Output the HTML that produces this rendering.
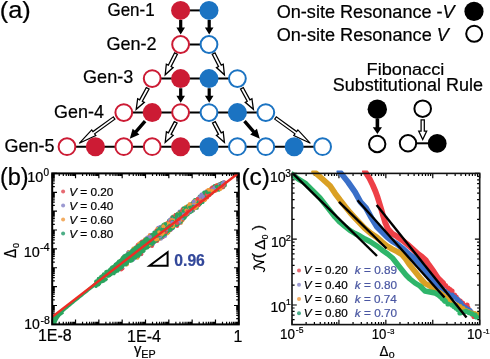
<!DOCTYPE html><html><head><meta charset="utf-8"><style>html,body{margin:0;padding:0;background:#fff;}svg{display:block;filter:blur(0.35px);}text{font-family:"Liberation Sans",sans-serif;}</style></head><body>
<svg width="490" height="359" viewBox="0 0 490 359">
<rect width="490" height="359" fill="#fff"/>
<line x1="180.6" y1="10.4" x2="209.0" y2="10.4" stroke="#000" stroke-width="2"/>
<line x1="180.6" y1="44.5" x2="209.0" y2="44.5" stroke="#000" stroke-width="2"/>
<line x1="152.2" y1="78.6" x2="237.4" y2="78.6" stroke="#000" stroke-width="2"/>
<line x1="123.8" y1="112.6" x2="265.8" y2="112.6" stroke="#000" stroke-width="2"/>
<line x1="67.0" y1="146.7" x2="322.6" y2="146.7" stroke="#000" stroke-width="2"/>
<polygon points="179.10,20.00 179.10,27.40 176.40,27.40 180.70,34.40 185.00,27.40 182.30,27.40 182.30,20.00" fill="#000"/>
<polygon points="207.60,20.00 207.60,27.40 204.90,27.40 209.20,34.40 213.50,27.40 210.80,27.40 210.80,20.00" fill="#000"/>
<polygon points="179.10,88.30 179.10,95.80 176.40,95.80 180.70,102.80 185.00,95.80 182.30,95.80 182.30,88.30" fill="#000"/>
<polygon points="207.60,88.30 207.60,95.80 204.90,95.80 209.20,102.80 213.50,95.80 210.80,95.80 210.80,88.30" fill="#000"/>
<polygon points="143.82,120.08 134.75,130.52 132.64,128.68 129.80,138.80 139.43,134.58 137.32,132.75 146.38,122.32" fill="#000"/>
<polygon points="243.22,122.32 252.28,132.75 250.17,134.58 259.80,138.80 256.96,128.68 254.85,130.52 245.78,120.08" fill="#000"/>
<polygon points="174.62,52.80 168.34,65.18 166.33,64.16 165.20,74.80 173.11,67.60 171.10,66.58 177.38,54.20" fill="#fff" stroke="#000" stroke-width="1.3" stroke-linejoin="miter"/>
<polygon points="212.22,54.20 218.50,66.58 216.49,67.60 224.40,74.80 223.27,64.16 221.26,65.18 214.98,52.80" fill="#fff" stroke="#000" stroke-width="1.3" stroke-linejoin="miter"/>
<polygon points="146.34,87.56 139.64,99.78 137.67,98.70 136.20,109.30 144.34,102.35 142.36,101.27 149.06,89.04" fill="#fff" stroke="#000" stroke-width="1.3" stroke-linejoin="miter"/>
<polygon points="240.54,89.04 247.24,101.27 245.26,102.35 253.40,109.30 251.93,98.70 249.96,99.78 243.26,87.56" fill="#fff" stroke="#000" stroke-width="1.3" stroke-linejoin="miter"/>
<polygon points="174.33,121.58 168.38,132.90 166.39,131.86 165.20,142.30 173.12,135.39 171.13,134.34 177.07,123.02" fill="#fff" stroke="#000" stroke-width="1.3" stroke-linejoin="miter"/>
<polygon points="212.53,123.02 218.47,134.34 216.48,135.39 224.40,142.30 223.21,131.86 221.22,132.90 215.27,121.58" fill="#fff" stroke="#000" stroke-width="1.3" stroke-linejoin="miter"/>
<polygon points="113.28,116.87 92.95,131.60 91.72,129.90 79.20,143.30 95.83,135.57 94.60,133.87 114.92,119.13" fill="#fff" stroke="#000" stroke-width="1.2" stroke-linejoin="miter"/>
<polygon points="274.68,119.13 295.00,133.87 293.77,135.57 310.40,143.30 297.88,129.90 296.65,131.60 276.32,116.87" fill="#fff" stroke="#000" stroke-width="1.2" stroke-linejoin="miter"/>
<circle cx="180.6" cy="10.4" r="9.5" fill="#cc1b34"/>
<circle cx="209.0" cy="10.4" r="9.5" fill="#1b73c2"/>
<circle cx="180.6" cy="44.5" r="8.4" fill="#fff" stroke="#cc1b34" stroke-width="2"/>
<circle cx="209.0" cy="44.5" r="8.4" fill="#fff" stroke="#1b73c2" stroke-width="2"/>
<circle cx="152.2" cy="78.6" r="8.4" fill="#fff" stroke="#cc1b34" stroke-width="2"/>
<circle cx="180.6" cy="78.6" r="9.5" fill="#cc1b34"/>
<circle cx="209.0" cy="78.6" r="9.5" fill="#1b73c2"/>
<circle cx="237.4" cy="78.6" r="8.4" fill="#fff" stroke="#1b73c2" stroke-width="2"/>
<circle cx="123.8" cy="112.6" r="8.4" fill="#fff" stroke="#cc1b34" stroke-width="2"/>
<circle cx="152.2" cy="112.6" r="9.5" fill="#cc1b34"/>
<circle cx="180.6" cy="112.6" r="8.4" fill="#fff" stroke="#cc1b34" stroke-width="2"/>
<circle cx="209.0" cy="112.6" r="8.4" fill="#fff" stroke="#1b73c2" stroke-width="2"/>
<circle cx="237.4" cy="112.6" r="9.5" fill="#1b73c2"/>
<circle cx="265.8" cy="112.6" r="8.4" fill="#fff" stroke="#1b73c2" stroke-width="2"/>
<circle cx="67.0" cy="146.7" r="8.4" fill="#fff" stroke="#cc1b34" stroke-width="2"/>
<circle cx="95.4" cy="146.7" r="9.5" fill="#cc1b34"/>
<circle cx="123.8" cy="146.7" r="8.4" fill="#fff" stroke="#cc1b34" stroke-width="2"/>
<circle cx="152.2" cy="146.7" r="8.4" fill="#fff" stroke="#cc1b34" stroke-width="2"/>
<circle cx="180.6" cy="146.7" r="9.5" fill="#cc1b34"/>
<circle cx="209.0" cy="146.7" r="9.5" fill="#1b73c2"/>
<circle cx="237.4" cy="146.7" r="8.4" fill="#fff" stroke="#1b73c2" stroke-width="2"/>
<circle cx="265.8" cy="146.7" r="8.4" fill="#fff" stroke="#1b73c2" stroke-width="2"/>
<circle cx="294.2" cy="146.7" r="9.5" fill="#1b73c2"/>
<circle cx="322.6" cy="146.7" r="8.4" fill="#fff" stroke="#1b73c2" stroke-width="2"/>
<circle cx="474" cy="11.4" r="9.6" fill="#000"/>
<circle cx="474.2" cy="33.8" r="8.0" fill="#fff" stroke="#000" stroke-width="2"/>
<circle cx="377.3" cy="109.2" r="9.7" fill="#000"/>
<polygon points="375.60,118.80 375.60,127.20 372.80,127.20 377.40,134.00 382.00,127.20 379.20,127.20 379.20,118.80" fill="#000"/>
<circle cx="377.2" cy="144.0" r="8.2" fill="#fff" stroke="#000" stroke-width="2"/>
<circle cx="422.7" cy="108.7" r="8.3" fill="#fff" stroke="#000" stroke-width="2"/>
<line x1="408" y1="143.3" x2="437.2" y2="143.3" stroke="#000" stroke-width="2"/>
<polygon points="421.10,119.80 421.10,131.00 418.70,131.00 422.70,139.50 426.70,131.00 424.30,131.00 424.30,119.80" fill="#fff" stroke="#000" stroke-width="1.25" stroke-linejoin="miter"/>
<circle cx="408.0" cy="143.3" r="8.2" fill="#fff" stroke="#000" stroke-width="2"/>
<circle cx="437.2" cy="143.4" r="9.4" fill="#000"/>
<path d="M52.20 324.4v-4.8M52.20 173.4v4.8M59.22 324.4v-2.6M59.22 173.4v2.6M63.33 324.4v-2.6M63.33 173.4v2.6M66.24 324.4v-2.6M66.24 173.4v2.6M68.50 324.4v-2.6M68.50 173.4v2.6M70.35 324.4v-2.6M70.35 173.4v2.6M71.91 324.4v-2.6M71.91 173.4v2.6M73.26 324.4v-2.6M73.26 173.4v2.6M74.46 324.4v-2.6M74.46 173.4v2.6M75.53 324.4v-4.8M75.53 173.4v4.8M82.55 324.4v-2.6M82.55 173.4v2.6M86.65 324.4v-2.6M86.65 173.4v2.6M89.57 324.4v-2.6M89.57 173.4v2.6M91.83 324.4v-2.6M91.83 173.4v2.6M93.68 324.4v-2.6M93.68 173.4v2.6M95.24 324.4v-2.6M95.24 173.4v2.6M96.59 324.4v-2.6M96.59 173.4v2.6M97.78 324.4v-2.6M97.78 173.4v2.6M98.85 324.4v-4.8M98.85 173.4v4.8M105.87 324.4v-2.6M105.87 173.4v2.6M109.98 324.4v-2.6M109.98 173.4v2.6M112.89 324.4v-2.6M112.89 173.4v2.6M115.15 324.4v-2.6M115.15 173.4v2.6M117.00 324.4v-2.6M117.00 173.4v2.6M118.56 324.4v-2.6M118.56 173.4v2.6M119.91 324.4v-2.6M119.91 173.4v2.6M121.11 324.4v-2.6M121.11 173.4v2.6M122.18 324.4v-4.8M122.18 173.4v4.8M129.20 324.4v-2.6M129.20 173.4v2.6M133.30 324.4v-2.6M133.30 173.4v2.6M136.22 324.4v-2.6M136.22 173.4v2.6M138.48 324.4v-2.6M138.48 173.4v2.6M140.33 324.4v-2.6M140.33 173.4v2.6M141.89 324.4v-2.6M141.89 173.4v2.6M143.24 324.4v-2.6M143.24 173.4v2.6M144.43 324.4v-2.6M144.43 173.4v2.6M145.50 324.4v-4.8M145.50 173.4v4.8M152.52 324.4v-2.6M152.52 173.4v2.6M156.63 324.4v-2.6M156.63 173.4v2.6M159.54 324.4v-2.6M159.54 173.4v2.6M161.80 324.4v-2.6M161.80 173.4v2.6M163.65 324.4v-2.6M163.65 173.4v2.6M165.21 324.4v-2.6M165.21 173.4v2.6M166.56 324.4v-2.6M166.56 173.4v2.6M167.76 324.4v-2.6M167.76 173.4v2.6M168.83 324.4v-4.8M168.83 173.4v4.8M175.85 324.4v-2.6M175.85 173.4v2.6M179.95 324.4v-2.6M179.95 173.4v2.6M182.87 324.4v-2.6M182.87 173.4v2.6M185.13 324.4v-2.6M185.13 173.4v2.6M186.98 324.4v-2.6M186.98 173.4v2.6M188.54 324.4v-2.6M188.54 173.4v2.6M189.89 324.4v-2.6M189.89 173.4v2.6M191.08 324.4v-2.6M191.08 173.4v2.6M192.15 324.4v-4.8M192.15 173.4v4.8M199.17 324.4v-2.6M199.17 173.4v2.6M203.28 324.4v-2.6M203.28 173.4v2.6M206.19 324.4v-2.6M206.19 173.4v2.6M208.45 324.4v-2.6M208.45 173.4v2.6M210.30 324.4v-2.6M210.30 173.4v2.6M211.86 324.4v-2.6M211.86 173.4v2.6M213.21 324.4v-2.6M213.21 173.4v2.6M214.41 324.4v-2.6M214.41 173.4v2.6M215.48 324.4v-4.8M215.48 173.4v4.8M222.50 324.4v-2.6M222.50 173.4v2.6M226.60 324.4v-2.6M226.60 173.4v2.6M229.52 324.4v-2.6M229.52 173.4v2.6M231.78 324.4v-2.6M231.78 173.4v2.6M233.63 324.4v-2.6M233.63 173.4v2.6M235.19 324.4v-2.6M235.19 173.4v2.6M236.54 324.4v-2.6M236.54 173.4v2.6M237.73 324.4v-2.6M237.73 173.4v2.6M238.80 324.4v-4.8M238.80 173.4v4.8M52.2 324.40h4.8M238.8 324.40h-4.8M52.2 318.72h2.6M238.8 318.72h-2.6M52.2 315.39h2.6M238.8 315.39h-2.6M52.2 313.04h2.6M238.8 313.04h-2.6M52.2 311.21h2.6M238.8 311.21h-2.6M52.2 309.71h2.6M238.8 309.71h-2.6M52.2 308.45h2.6M238.8 308.45h-2.6M52.2 307.35h2.6M238.8 307.35h-2.6M52.2 306.39h2.6M238.8 306.39h-2.6M52.2 305.52h4.8M238.8 305.52h-4.8M52.2 299.84h2.6M238.8 299.84h-2.6M52.2 296.52h2.6M238.8 296.52h-2.6M52.2 294.16h2.6M238.8 294.16h-2.6M52.2 292.33h2.6M238.8 292.33h-2.6M52.2 290.84h2.6M238.8 290.84h-2.6M52.2 289.57h2.6M238.8 289.57h-2.6M52.2 288.48h2.6M238.8 288.48h-2.6M52.2 287.51h2.6M238.8 287.51h-2.6M52.2 286.65h4.8M238.8 286.65h-4.8M52.2 280.97h2.6M238.8 280.97h-2.6M52.2 277.64h2.6M238.8 277.64h-2.6M52.2 275.29h2.6M238.8 275.29h-2.6M52.2 273.46h2.6M238.8 273.46h-2.6M52.2 271.96h2.6M238.8 271.96h-2.6M52.2 270.70h2.6M238.8 270.70h-2.6M52.2 269.60h2.6M238.8 269.60h-2.6M52.2 268.64h2.6M238.8 268.64h-2.6M52.2 267.77h4.8M238.8 267.77h-4.8M52.2 262.09h2.6M238.8 262.09h-2.6M52.2 258.77h2.6M238.8 258.77h-2.6M52.2 256.41h2.6M238.8 256.41h-2.6M52.2 254.58h2.6M238.8 254.58h-2.6M52.2 253.09h2.6M238.8 253.09h-2.6M52.2 251.82h2.6M238.8 251.82h-2.6M52.2 250.73h2.6M238.8 250.73h-2.6M52.2 249.76h2.6M238.8 249.76h-2.6M52.2 248.90h4.8M238.8 248.90h-4.8M52.2 243.22h2.6M238.8 243.22h-2.6M52.2 239.89h2.6M238.8 239.89h-2.6M52.2 237.54h2.6M238.8 237.54h-2.6M52.2 235.71h2.6M238.8 235.71h-2.6M52.2 234.21h2.6M238.8 234.21h-2.6M52.2 232.95h2.6M238.8 232.95h-2.6M52.2 231.85h2.6M238.8 231.85h-2.6M52.2 230.89h2.6M238.8 230.89h-2.6M52.2 230.02h4.8M238.8 230.02h-4.8M52.2 224.34h2.6M238.8 224.34h-2.6M52.2 221.02h2.6M238.8 221.02h-2.6M52.2 218.66h2.6M238.8 218.66h-2.6M52.2 216.83h2.6M238.8 216.83h-2.6M52.2 215.34h2.6M238.8 215.34h-2.6M52.2 214.07h2.6M238.8 214.07h-2.6M52.2 212.98h2.6M238.8 212.98h-2.6M52.2 212.01h2.6M238.8 212.01h-2.6M52.2 211.15h4.8M238.8 211.15h-4.8M52.2 205.47h2.6M238.8 205.47h-2.6M52.2 202.14h2.6M238.8 202.14h-2.6M52.2 199.79h2.6M238.8 199.79h-2.6M52.2 197.96h2.6M238.8 197.96h-2.6M52.2 196.46h2.6M238.8 196.46h-2.6M52.2 195.20h2.6M238.8 195.20h-2.6M52.2 194.10h2.6M238.8 194.10h-2.6M52.2 193.14h2.6M238.8 193.14h-2.6M52.2 192.28h4.8M238.8 192.28h-4.8M52.2 186.59h2.6M238.8 186.59h-2.6M52.2 183.27h2.6M238.8 183.27h-2.6M52.2 180.91h2.6M238.8 180.91h-2.6M52.2 179.08h2.6M238.8 179.08h-2.6M52.2 177.59h2.6M238.8 177.59h-2.6M52.2 176.32h2.6M238.8 176.32h-2.6M52.2 175.23h2.6M238.8 175.23h-2.6M52.2 174.26h2.6M238.8 174.26h-2.6M52.2 173.40h4.8M238.8 173.40h-4.8" stroke="#000" stroke-width="1.2" fill="none"/>
<clipPath id="cb"><rect x="52.2" y="173.4" width="186.6" height="151.0"/></clipPath><g clip-path="url(#cb)">
<circle cx="142.0" cy="241.4" r="2.0" fill="#e8474f"/>
<circle cx="125.0" cy="256.5" r="2.0" fill="#f09a3a"/>
<circle cx="150.1" cy="244.6" r="2.0" fill="#f09a3a"/>
<circle cx="159.8" cy="229.3" r="2.0" fill="#8a84c8"/>
<circle cx="147.4" cy="239.5" r="2.0" fill="#f09a3a"/>
<circle cx="128.7" cy="252.1" r="2.0" fill="#f09a3a"/>
<circle cx="160.3" cy="226.7" r="2.0" fill="#8a84c8"/>
<circle cx="163.8" cy="235.5" r="2.0" fill="#8a84c8"/>
<circle cx="186.3" cy="206.9" r="2.0" fill="#8a84c8"/>
<circle cx="136.1" cy="257.2" r="2.0" fill="#8a84c8"/>
<circle cx="139.3" cy="253.5" r="2.0" fill="#f09a3a"/>
<circle cx="143.3" cy="242.7" r="2.0" fill="#e8474f"/>
<circle cx="160.4" cy="237.4" r="2.0" fill="#8a84c8"/>
<circle cx="160.9" cy="238.7" r="2.0" fill="#8a84c8"/>
<circle cx="167.1" cy="233.4" r="2.0" fill="#f09a3a"/>
<circle cx="146.5" cy="247.3" r="2.0" fill="#f09a3a"/>
<circle cx="163.2" cy="234.9" r="2.0" fill="#f09a3a"/>
<circle cx="136.3" cy="246.7" r="2.0" fill="#f09a3a"/>
<circle cx="147.7" cy="246.7" r="2.0" fill="#e8474f"/>
<circle cx="138.6" cy="254.8" r="2.0" fill="#e8474f"/>
<circle cx="129.2" cy="251.9" r="2.0" fill="#f09a3a"/>
<circle cx="179.5" cy="211.6" r="2.0" fill="#8a84c8"/>
<circle cx="145.3" cy="239.9" r="2.0" fill="#8a84c8"/>
<circle cx="182.5" cy="220.6" r="2.0" fill="#f09a3a"/>
<circle cx="147.2" cy="238.1" r="2.0" fill="#f09a3a"/>
<circle cx="133.4" cy="248.4" r="2.0" fill="#f09a3a"/>
<circle cx="159.9" cy="228.0" r="2.0" fill="#f09a3a"/>
<circle cx="133.4" cy="259.6" r="2.0" fill="#8a84c8"/>
<circle cx="153.1" cy="243.6" r="2.0" fill="#8a84c8"/>
<circle cx="141.1" cy="254.2" r="2.0" fill="#8a84c8"/>
<circle cx="169.2" cy="230.1" r="2.0" fill="#f09a3a"/>
<circle cx="158.2" cy="227.8" r="2.0" fill="#8a84c8"/>
<circle cx="137.3" cy="245.9" r="2.0" fill="#8a84c8"/>
<circle cx="175.7" cy="215.0" r="2.0" fill="#e8474f"/>
<circle cx="178.6" cy="222.6" r="2.0" fill="#f09a3a"/>
<circle cx="120.1" cy="268.0" r="2.0" fill="#f09a3a"/>
<circle cx="162.8" cy="237.2" r="2.0" fill="#e8474f"/>
<circle cx="145.0" cy="239.2" r="2.0" fill="#f09a3a"/>
<circle cx="153.7" cy="234.3" r="2.0" fill="#8a84c8"/>
<circle cx="166.3" cy="223.7" r="2.0" fill="#e8474f"/>
<circle cx="175.9" cy="216.1" r="2.0" fill="#8a84c8"/>
<circle cx="165.1" cy="235.9" r="2.0" fill="#8a84c8"/>
<circle cx="173.0" cy="216.4" r="2.0" fill="#f09a3a"/>
<circle cx="161.7" cy="237.5" r="2.0" fill="#8a84c8"/>
<circle cx="143.9" cy="241.0" r="2.0" fill="#e8474f"/>
<circle cx="171.8" cy="217.4" r="2.0" fill="#8a84c8"/>
<circle cx="182.5" cy="219.0" r="2.0" fill="#f09a3a"/>
<circle cx="155.1" cy="241.5" r="2.0" fill="#e8474f"/>
<circle cx="122.5" cy="268.4" r="2.0" fill="#e8474f"/>
<circle cx="183.0" cy="208.8" r="2.0" fill="#e8474f"/>
<circle cx="175.5" cy="216.0" r="2.0" fill="#f09a3a"/>
<circle cx="153.0" cy="243.9" r="2.0" fill="#8a84c8"/>
<circle cx="157.3" cy="230.0" r="2.0" fill="#f09a3a"/>
<circle cx="138.5" cy="246.1" r="2.0" fill="#e8474f"/>
<circle cx="185.5" cy="207.8" r="2.0" fill="#8a84c8"/>
<circle cx="151.5" cy="234.8" r="2.0" fill="#8a84c8"/>
<circle cx="182.9" cy="211.3" r="2.0" fill="#e8474f"/>
<circle cx="128.1" cy="252.5" r="2.0" fill="#8a84c8"/>
<circle cx="149.7" cy="235.3" r="2.0" fill="#e8474f"/>
<circle cx="129.4" cy="253.3" r="2.0" fill="#f09a3a"/>
<circle cx="128.2" cy="253.5" r="2.0" fill="#f09a3a"/>
<circle cx="154.1" cy="234.1" r="2.0" fill="#8a84c8"/>
<circle cx="191.6" cy="211.0" r="2.0" fill="#f09a3a"/>
<circle cx="171.4" cy="229.4" r="2.0" fill="#8a84c8"/>
<circle cx="146.4" cy="238.8" r="2.0" fill="#f09a3a"/>
<circle cx="186.0" cy="206.8" r="2.0" fill="#f09a3a"/>
<circle cx="120.9" cy="260.5" r="2.0" fill="#e8474f"/>
<circle cx="180.9" cy="223.0" r="2.0" fill="#f09a3a"/>
<circle cx="186.0" cy="207.8" r="2.0" fill="#f09a3a"/>
<circle cx="177.2" cy="225.9" r="2.0" fill="#e8474f"/>
<circle cx="164.9" cy="224.7" r="2.0" fill="#f09a3a"/>
<circle cx="181.8" cy="220.0" r="2.0" fill="#e8474f"/>
<circle cx="137.8" cy="244.7" r="2.0" fill="#e8474f"/>
<circle cx="189.7" cy="211.8" r="2.0" fill="#8a84c8"/>
<circle cx="157.3" cy="229.1" r="2.0" fill="#f09a3a"/>
<circle cx="177.5" cy="215.6" r="2.0" fill="#8a84c8"/>
<circle cx="158.8" cy="239.2" r="2.0" fill="#f09a3a"/>
<circle cx="178.6" cy="223.5" r="2.0" fill="#e8474f"/>
<circle cx="140.8" cy="242.6" r="2.0" fill="#e8474f"/>
<circle cx="170.3" cy="229.9" r="2.0" fill="#e8474f"/>
<circle cx="179.9" cy="222.8" r="2.0" fill="#8a84c8"/>
<circle cx="122.1" cy="267.0" r="2.0" fill="#8a84c8"/>
<circle cx="169.3" cy="230.0" r="2.0" fill="#8a84c8"/>
<circle cx="137.5" cy="257.7" r="2.0" fill="#f09a3a"/>
<circle cx="189.5" cy="204.3" r="2.0" fill="#f09a3a"/>
<circle cx="124.2" cy="256.2" r="2.0" fill="#8a84c8"/>
<circle cx="118.4" cy="268.6" r="2.0" fill="#8a84c8"/>
<circle cx="147.2" cy="237.6" r="2.0" fill="#8a84c8"/>
<circle cx="157.2" cy="241.0" r="2.0" fill="#e8474f"/>
<circle cx="171.3" cy="218.9" r="2.0" fill="#f09a3a"/>
<circle cx="179.8" cy="213.5" r="2.0" fill="#e8474f"/>
<circle cx="173.7" cy="217.3" r="2.0" fill="#e8474f"/>
<circle cx="161.2" cy="228.0" r="2.0" fill="#f09a3a"/>
<circle cx="121.1" cy="269.6" r="2.0" fill="#e8474f"/>
<circle cx="159.3" cy="228.7" r="2.0" fill="#8a84c8"/>
<circle cx="118.2" cy="262.8" r="2.0" fill="#8a84c8"/>
<circle cx="122.9" cy="258.7" r="2.0" fill="#e8474f"/>
<circle cx="135.4" cy="256.8" r="2.0" fill="#8a84c8"/>
<circle cx="146.3" cy="238.8" r="2.0" fill="#8a84c8"/>
<circle cx="165.6" cy="232.8" r="2.0" fill="#8a84c8"/>
<circle cx="169.3" cy="229.8" r="2.0" fill="#f09a3a"/>
<circle cx="137.9" cy="256.4" r="2.0" fill="#f09a3a"/>
<circle cx="156.2" cy="230.7" r="2.0" fill="#e8474f"/>
<circle cx="158.6" cy="238.0" r="2.0" fill="#f09a3a"/>
<circle cx="152.0" cy="246.0" r="2.0" fill="#e8474f"/>
<circle cx="146.6" cy="239.9" r="2.0" fill="#8a84c8"/>
<circle cx="128.5" cy="253.4" r="2.0" fill="#8a84c8"/>
<circle cx="164.7" cy="233.4" r="2.0" fill="#f09a3a"/>
<circle cx="184.4" cy="208.7" r="2.0" fill="#e8474f"/>
<circle cx="168.4" cy="232.4" r="2.0" fill="#f09a3a"/>
<circle cx="141.4" cy="251.5" r="2.0" fill="#e8474f"/>
<circle cx="126.9" cy="264.6" r="2.0" fill="#f09a3a"/>
<circle cx="122.8" cy="257.7" r="2.0" fill="#f09a3a"/>
<circle cx="149.7" cy="235.5" r="2.0" fill="#f09a3a"/>
<circle cx="167.0" cy="231.7" r="2.0" fill="#8a84c8"/>
<circle cx="141.4" cy="254.1" r="2.0" fill="#e8474f"/>
<circle cx="178.1" cy="214.1" r="2.0" fill="#8a84c8"/>
<circle cx="121.7" cy="259.7" r="2.0" fill="#8a84c8"/>
<circle cx="139.2" cy="243.4" r="2.0" fill="#f09a3a"/>
<circle cx="148.7" cy="246.3" r="2.0" fill="#8a84c8"/>
<polygon points="51.00,317.04 52.00,316.47 53.00,315.89 54.00,315.42 55.00,314.95 56.00,314.48 57.00,313.72 58.00,312.96 59.00,312.20 60.00,311.44 61.00,310.68 62.00,309.92 63.00,309.16 64.00,308.40 65.00,307.54 66.00,306.69 67.00,305.83 68.00,304.98 69.00,304.13 70.00,303.27 71.00,302.42 72.00,301.56 73.00,300.71 74.00,299.85 75.00,299.00 76.00,298.16 77.00,297.32 78.00,296.48 79.00,295.64 80.00,294.80 81.00,293.97 82.00,293.13 83.00,292.29 84.00,291.45 85.00,290.61 86.00,289.77 87.00,288.93 88.00,288.09 89.00,287.25 90.00,286.41 91.00,285.54 92.00,284.67 93.00,283.80 94.00,282.92 95.00,282.05 96.00,281.98 97.00,281.11 98.00,280.23 99.00,279.36 100.00,278.49 101.00,277.63 102.00,276.78 103.00,275.92 104.00,275.07 105.00,274.21 106.00,273.36 107.00,272.50 108.00,271.64 109.00,270.79 110.00,269.93 111.00,269.08 112.00,268.22 113.00,267.37 114.00,266.52 115.00,265.67 116.00,264.82 117.00,263.97 118.00,263.13 119.00,262.28 120.00,261.43 121.00,260.58 122.00,259.73 123.00,258.88 124.00,258.03 125.00,257.18 126.00,256.37 127.00,255.57 128.00,254.76 129.00,253.96 130.00,253.15 131.00,252.35 132.00,251.54 133.00,250.73 134.00,249.93 135.00,249.12 136.00,248.32 137.00,247.51 138.00,246.71 139.00,245.90 140.00,245.09 141.00,244.27 142.00,243.45 143.00,242.63 144.00,241.80 145.00,240.98 146.00,240.16 147.00,239.34 148.00,238.51 149.00,237.69 150.00,236.87 151.00,236.06 152.00,235.26 153.00,234.45 154.00,233.65 155.00,232.84 156.00,232.04 157.00,231.23 158.00,230.42 159.00,229.62 160.00,228.81 161.00,228.01 162.00,227.20 163.00,226.40 164.00,225.59 165.00,224.78 166.00,224.01 167.00,223.24 168.00,222.47 169.00,221.69 170.00,220.92 171.00,220.15 172.00,219.38 173.00,218.60 174.00,217.83 175.00,217.06 176.00,216.29 177.00,215.52 178.00,214.74 179.00,213.97 180.00,213.20 181.00,212.43 182.00,211.65 183.00,210.88 184.00,210.11 185.00,209.34 186.00,208.56 187.00,207.79 188.00,207.02 189.00,206.25 190.00,205.47 191.00,204.70 192.00,203.93 193.00,203.16 194.00,202.38 195.00,201.61 196.00,200.84 197.00,200.07 198.00,199.29 199.00,198.52 200.00,197.75 200.00,202.75 199.00,203.62 198.00,204.49 197.00,205.37 196.00,206.24 195.00,207.11 194.00,207.98 193.00,208.86 192.00,209.73 191.00,210.60 190.00,211.47 189.00,212.45 188.00,213.42 187.00,214.39 186.00,215.36 185.00,216.34 184.00,217.31 183.00,218.28 182.00,219.25 181.00,220.23 180.00,221.20 179.00,222.00 178.00,222.81 177.00,223.62 176.00,224.42 175.00,225.23 174.00,226.03 173.00,226.84 172.00,227.64 171.00,228.45 170.00,229.26 169.00,230.06 168.00,230.87 167.00,231.67 166.00,232.48 165.00,233.28 164.00,234.06 163.00,234.83 162.00,235.60 161.00,236.37 160.00,237.15 159.00,237.92 158.00,238.69 157.00,239.46 156.00,240.24 155.00,241.01 154.00,241.78 153.00,242.55 152.00,243.33 151.00,244.10 150.00,244.87 149.00,245.69 148.00,246.51 147.00,247.34 146.00,248.16 145.00,248.98 144.00,249.80 143.00,250.63 142.00,251.45 141.00,252.27 140.00,253.09 139.00,253.83 138.00,254.57 137.00,255.31 136.00,256.05 135.00,256.79 134.00,257.53 133.00,258.27 132.00,259.01 131.00,259.75 130.00,260.48 129.00,261.22 128.00,261.96 127.00,262.70 126.00,263.44 125.00,264.18 124.00,264.88 123.00,265.57 122.00,266.27 121.00,266.96 120.00,267.66 119.00,268.35 118.00,269.05 117.00,269.74 116.00,270.44 115.00,271.13 114.00,271.83 113.00,272.53 112.00,273.22 111.00,273.95 110.00,274.68 109.00,275.41 108.00,276.14 107.00,276.87 106.00,277.61 105.00,278.34 104.00,279.07 103.00,279.80 102.00,280.53 101.00,281.26 100.00,281.99 99.00,282.76 98.00,283.53 97.00,284.31 96.00,285.08 95.00,286.65 94.00,287.42 93.00,288.20 92.00,288.97 91.00,289.74 90.00,290.51 89.00,291.32 88.00,292.13 87.00,292.93 86.00,293.74 85.00,294.54 84.00,295.35 83.00,296.15 82.00,296.96 81.00,297.77 80.00,298.57 79.00,299.38 78.00,300.18 77.00,300.99 76.00,301.79 75.00,302.60 74.00,303.44 73.00,304.27 72.00,305.11 71.00,305.94 70.00,306.78 69.00,307.62 68.00,308.45 67.00,309.29 66.00,310.12 65.00,310.96 64.00,311.80 63.00,312.67 62.00,313.54 61.00,314.41 60.00,315.29 59.00,316.16 58.00,317.03 57.00,317.90 56.00,318.78 55.00,319.88 54.00,320.99 53.00,322.09 52.00,323.62 51.00,325.14" fill="#2aa55e"/>
<circle cx="96.0" cy="281.4" r="1.9" fill="#2aa55e"/>
<circle cx="96.0" cy="286.5" r="1.6" fill="#2aa55e"/>
<circle cx="97.3" cy="281.0" r="2.0" fill="#2aa55e"/>
<circle cx="97.3" cy="285.0" r="1.8" fill="#2aa55e"/>
<circle cx="98.5" cy="278.6" r="1.8" fill="#2aa55e"/>
<circle cx="98.5" cy="284.8" r="1.8" fill="#2aa55e"/>
<circle cx="99.5" cy="278.8" r="1.7" fill="#2aa55e"/>
<circle cx="99.5" cy="283.8" r="1.7" fill="#2aa55e"/>
<circle cx="100.9" cy="277.1" r="2.0" fill="#2aa55e"/>
<circle cx="100.9" cy="282.1" r="1.7" fill="#2aa55e"/>
<circle cx="102.3" cy="276.0" r="2.0" fill="#2aa55e"/>
<circle cx="102.3" cy="281.4" r="1.8" fill="#2aa55e"/>
<circle cx="103.6" cy="274.1" r="1.8" fill="#2aa55e"/>
<circle cx="103.6" cy="280.8" r="2.0" fill="#2aa55e"/>
<circle cx="105.1" cy="274.8" r="1.7" fill="#2aa55e"/>
<circle cx="105.1" cy="279.7" r="1.9" fill="#2aa55e"/>
<circle cx="106.2" cy="272.1" r="2.1" fill="#2aa55e"/>
<circle cx="106.2" cy="279.2" r="1.6" fill="#2aa55e"/>
<circle cx="107.3" cy="271.7" r="2.1" fill="#2aa55e"/>
<circle cx="107.3" cy="276.0" r="1.8" fill="#2aa55e"/>
<circle cx="108.2" cy="272.3" r="1.8" fill="#2aa55e"/>
<circle cx="108.2" cy="275.9" r="1.8" fill="#2aa55e"/>
<circle cx="109.4" cy="270.0" r="1.6" fill="#2aa55e"/>
<circle cx="109.4" cy="275.3" r="2.1" fill="#2aa55e"/>
<circle cx="110.2" cy="269.6" r="2.0" fill="#2aa55e"/>
<circle cx="110.2" cy="274.1" r="2.0" fill="#2aa55e"/>
<circle cx="111.1" cy="268.4" r="1.6" fill="#2aa55e"/>
<circle cx="111.1" cy="274.4" r="1.8" fill="#2aa55e"/>
<circle cx="111.9" cy="267.3" r="1.9" fill="#2aa55e"/>
<circle cx="111.9" cy="272.1" r="1.8" fill="#2aa55e"/>
<circle cx="113.1" cy="266.7" r="1.7" fill="#2aa55e"/>
<circle cx="113.1" cy="272.7" r="2.1" fill="#2aa55e"/>
<circle cx="114.0" cy="265.8" r="1.5" fill="#2aa55e"/>
<circle cx="114.0" cy="273.6" r="1.8" fill="#2aa55e"/>
<circle cx="115.6" cy="264.4" r="2.0" fill="#2aa55e"/>
<circle cx="115.6" cy="271.9" r="1.6" fill="#2aa55e"/>
<circle cx="116.9" cy="263.3" r="1.7" fill="#2aa55e"/>
<circle cx="116.9" cy="270.4" r="1.9" fill="#2aa55e"/>
<circle cx="117.7" cy="263.3" r="1.9" fill="#2aa55e"/>
<circle cx="117.7" cy="271.2" r="1.5" fill="#2aa55e"/>
<circle cx="118.7" cy="261.3" r="1.8" fill="#2aa55e"/>
<circle cx="118.7" cy="269.5" r="1.9" fill="#2aa55e"/>
<circle cx="120.1" cy="260.3" r="1.5" fill="#2aa55e"/>
<circle cx="120.1" cy="268.7" r="1.7" fill="#2aa55e"/>
<circle cx="121.5" cy="260.3" r="1.6" fill="#2aa55e"/>
<circle cx="121.5" cy="267.5" r="2.0" fill="#2aa55e"/>
<circle cx="122.5" cy="258.2" r="2.0" fill="#2aa55e"/>
<circle cx="122.5" cy="266.6" r="1.6" fill="#2aa55e"/>
<circle cx="123.8" cy="256.5" r="1.8" fill="#2aa55e"/>
<circle cx="123.8" cy="264.7" r="2.0" fill="#2aa55e"/>
<circle cx="124.6" cy="255.6" r="1.5" fill="#2aa55e"/>
<circle cx="124.6" cy="264.1" r="1.5" fill="#2aa55e"/>
<circle cx="125.9" cy="254.9" r="1.6" fill="#2aa55e"/>
<circle cx="125.9" cy="264.7" r="1.8" fill="#2aa55e"/>
<circle cx="127.3" cy="254.6" r="1.5" fill="#2aa55e"/>
<circle cx="127.3" cy="263.4" r="1.6" fill="#2aa55e"/>
<circle cx="128.2" cy="253.5" r="1.8" fill="#2aa55e"/>
<circle cx="128.2" cy="261.7" r="1.7" fill="#2aa55e"/>
<circle cx="129.6" cy="253.9" r="1.8" fill="#2aa55e"/>
<circle cx="129.6" cy="259.6" r="1.6" fill="#2aa55e"/>
<circle cx="130.5" cy="252.8" r="2.0" fill="#2aa55e"/>
<circle cx="130.5" cy="261.1" r="1.8" fill="#2aa55e"/>
<circle cx="131.9" cy="250.2" r="1.7" fill="#2aa55e"/>
<circle cx="131.9" cy="260.5" r="2.0" fill="#2aa55e"/>
<circle cx="132.8" cy="250.2" r="1.8" fill="#2aa55e"/>
<circle cx="132.8" cy="258.6" r="1.8" fill="#2aa55e"/>
<circle cx="133.8" cy="249.4" r="1.9" fill="#2aa55e"/>
<circle cx="133.8" cy="257.5" r="1.6" fill="#2aa55e"/>
<circle cx="135.1" cy="247.9" r="1.8" fill="#2aa55e"/>
<circle cx="135.1" cy="257.7" r="2.0" fill="#2aa55e"/>
<circle cx="136.0" cy="247.8" r="1.9" fill="#2aa55e"/>
<circle cx="136.0" cy="256.9" r="1.7" fill="#2aa55e"/>
<circle cx="137.0" cy="247.1" r="1.9" fill="#2aa55e"/>
<circle cx="137.0" cy="255.8" r="1.9" fill="#2aa55e"/>
<circle cx="138.6" cy="245.3" r="1.9" fill="#2aa55e"/>
<circle cx="138.6" cy="255.8" r="2.0" fill="#2aa55e"/>
<circle cx="140.1" cy="245.6" r="1.6" fill="#2aa55e"/>
<circle cx="140.1" cy="254.1" r="1.9" fill="#2aa55e"/>
<circle cx="141.3" cy="243.6" r="2.0" fill="#2aa55e"/>
<circle cx="141.3" cy="251.4" r="2.0" fill="#2aa55e"/>
<circle cx="142.2" cy="242.6" r="2.1" fill="#2aa55e"/>
<circle cx="142.2" cy="251.9" r="1.7" fill="#2aa55e"/>
<circle cx="143.6" cy="241.9" r="2.0" fill="#2aa55e"/>
<circle cx="143.6" cy="251.2" r="1.8" fill="#2aa55e"/>
<circle cx="145.0" cy="239.7" r="1.7" fill="#2aa55e"/>
<circle cx="145.0" cy="249.1" r="1.6" fill="#2aa55e"/>
<circle cx="146.1" cy="239.0" r="1.8" fill="#2aa55e"/>
<circle cx="146.1" cy="248.0" r="1.6" fill="#2aa55e"/>
<circle cx="147.3" cy="238.7" r="1.9" fill="#2aa55e"/>
<circle cx="147.3" cy="247.9" r="1.6" fill="#2aa55e"/>
<circle cx="148.4" cy="239.5" r="1.6" fill="#2aa55e"/>
<circle cx="148.4" cy="246.7" r="1.6" fill="#2aa55e"/>
<circle cx="149.6" cy="237.0" r="1.8" fill="#2aa55e"/>
<circle cx="149.6" cy="245.5" r="2.0" fill="#2aa55e"/>
<circle cx="151.0" cy="235.6" r="1.7" fill="#2aa55e"/>
<circle cx="151.0" cy="244.1" r="1.7" fill="#2aa55e"/>
<circle cx="152.0" cy="234.6" r="1.6" fill="#2aa55e"/>
<circle cx="152.0" cy="244.7" r="1.6" fill="#2aa55e"/>
<circle cx="153.0" cy="234.2" r="1.5" fill="#2aa55e"/>
<circle cx="153.0" cy="242.9" r="1.7" fill="#2aa55e"/>
<circle cx="154.0" cy="232.0" r="1.6" fill="#2aa55e"/>
<circle cx="154.0" cy="242.2" r="1.8" fill="#2aa55e"/>
<circle cx="154.8" cy="233.8" r="1.6" fill="#2aa55e"/>
<circle cx="154.8" cy="241.8" r="1.8" fill="#2aa55e"/>
<circle cx="155.9" cy="231.9" r="1.5" fill="#2aa55e"/>
<circle cx="155.9" cy="240.5" r="1.9" fill="#2aa55e"/>
<circle cx="157.4" cy="230.4" r="1.8" fill="#2aa55e"/>
<circle cx="157.4" cy="240.0" r="1.6" fill="#2aa55e"/>
<circle cx="158.7" cy="229.4" r="1.5" fill="#2aa55e"/>
<circle cx="158.7" cy="237.7" r="1.9" fill="#2aa55e"/>
<circle cx="160.0" cy="228.1" r="1.7" fill="#2aa55e"/>
<circle cx="160.0" cy="237.9" r="1.5" fill="#2aa55e"/>
<circle cx="161.6" cy="228.0" r="2.0" fill="#2aa55e"/>
<circle cx="161.6" cy="236.7" r="2.0" fill="#2aa55e"/>
<circle cx="163.1" cy="225.2" r="1.9" fill="#2aa55e"/>
<circle cx="163.1" cy="235.7" r="1.5" fill="#2aa55e"/>
<circle cx="163.9" cy="224.2" r="1.7" fill="#2aa55e"/>
<circle cx="163.9" cy="234.7" r="2.0" fill="#2aa55e"/>
<circle cx="165.3" cy="224.5" r="1.9" fill="#2aa55e"/>
<circle cx="165.3" cy="234.4" r="1.7" fill="#2aa55e"/>
<circle cx="166.3" cy="224.2" r="1.8" fill="#2aa55e"/>
<circle cx="166.3" cy="232.8" r="1.5" fill="#2aa55e"/>
<circle cx="167.7" cy="222.7" r="1.5" fill="#2aa55e"/>
<circle cx="167.7" cy="231.3" r="2.0" fill="#2aa55e"/>
<circle cx="169.1" cy="220.6" r="1.7" fill="#2aa55e"/>
<circle cx="169.1" cy="230.0" r="2.1" fill="#2aa55e"/>
<circle cx="170.3" cy="220.3" r="1.6" fill="#2aa55e"/>
<circle cx="170.3" cy="229.9" r="1.8" fill="#2aa55e"/>
<circle cx="171.3" cy="219.3" r="1.5" fill="#2aa55e"/>
<circle cx="171.3" cy="228.4" r="1.6" fill="#2aa55e"/>
<circle cx="172.8" cy="217.4" r="2.1" fill="#2aa55e"/>
<circle cx="172.8" cy="228.2" r="1.9" fill="#2aa55e"/>
<circle cx="173.7" cy="217.2" r="1.6" fill="#2aa55e"/>
<circle cx="173.7" cy="227.2" r="1.5" fill="#2aa55e"/>
<circle cx="174.8" cy="216.6" r="2.0" fill="#2aa55e"/>
<circle cx="174.8" cy="224.7" r="1.7" fill="#2aa55e"/>
<circle cx="176.3" cy="216.9" r="1.7" fill="#2aa55e"/>
<circle cx="176.3" cy="225.2" r="1.9" fill="#2aa55e"/>
<circle cx="177.6" cy="215.4" r="1.9" fill="#2aa55e"/>
<circle cx="177.6" cy="224.3" r="2.0" fill="#2aa55e"/>
<circle cx="178.9" cy="214.0" r="1.9" fill="#2aa55e"/>
<circle cx="178.9" cy="221.9" r="1.6" fill="#2aa55e"/>
<circle cx="180.1" cy="212.3" r="2.1" fill="#2aa55e"/>
<circle cx="180.1" cy="221.6" r="1.6" fill="#2aa55e"/>
<circle cx="181.2" cy="212.8" r="2.0" fill="#2aa55e"/>
<circle cx="181.2" cy="222.1" r="1.6" fill="#2aa55e"/>
<circle cx="182.7" cy="211.1" r="1.9" fill="#2aa55e"/>
<circle cx="182.7" cy="218.3" r="1.7" fill="#2aa55e"/>
<circle cx="183.8" cy="208.3" r="2.0" fill="#2aa55e"/>
<circle cx="183.8" cy="218.5" r="1.9" fill="#2aa55e"/>
<circle cx="184.9" cy="208.8" r="1.7" fill="#2aa55e"/>
<circle cx="184.9" cy="217.8" r="1.8" fill="#2aa55e"/>
<circle cx="185.8" cy="210.2" r="1.8" fill="#2aa55e"/>
<circle cx="185.8" cy="216.2" r="1.8" fill="#2aa55e"/>
<circle cx="187.1" cy="207.7" r="2.0" fill="#2aa55e"/>
<circle cx="187.1" cy="213.7" r="1.7" fill="#2aa55e"/>
<circle cx="187.9" cy="206.0" r="2.0" fill="#2aa55e"/>
<circle cx="187.9" cy="214.6" r="1.8" fill="#2aa55e"/>
<circle cx="189.3" cy="205.8" r="2.1" fill="#2aa55e"/>
<circle cx="189.3" cy="212.9" r="1.7" fill="#2aa55e"/>
<circle cx="190.7" cy="205.4" r="2.0" fill="#2aa55e"/>
<circle cx="190.7" cy="212.1" r="1.9" fill="#2aa55e"/>
<circle cx="192.1" cy="203.5" r="1.9" fill="#2aa55e"/>
<circle cx="192.1" cy="210.3" r="1.9" fill="#2aa55e"/>
<circle cx="193.0" cy="203.6" r="1.7" fill="#2aa55e"/>
<circle cx="193.0" cy="210.6" r="2.0" fill="#2aa55e"/>
<circle cx="194.4" cy="201.0" r="1.6" fill="#2aa55e"/>
<circle cx="194.4" cy="207.2" r="2.0" fill="#2aa55e"/>
<circle cx="195.7" cy="200.5" r="1.9" fill="#2aa55e"/>
<circle cx="195.7" cy="207.7" r="2.0" fill="#2aa55e"/>
<circle cx="196.9" cy="199.5" r="1.8" fill="#2aa55e"/>
<circle cx="196.9" cy="207.9" r="1.9" fill="#2aa55e"/>
<circle cx="198.1" cy="198.6" r="1.6" fill="#2aa55e"/>
<circle cx="198.1" cy="205.6" r="1.7" fill="#2aa55e"/>
<circle cx="199.5" cy="197.5" r="1.7" fill="#2aa55e"/>
<circle cx="199.5" cy="204.4" r="2.0" fill="#2aa55e"/>
<circle cx="206.5" cy="191.1" r="1.9" fill="#e8474f"/>
<circle cx="222.3" cy="185.0" r="1.9" fill="#f09a3a"/>
<circle cx="200.1" cy="203.4" r="1.9" fill="#2aa55e"/>
<circle cx="187.9" cy="213.0" r="1.9" fill="#8a84c8"/>
<circle cx="174.7" cy="219.2" r="1.9" fill="#2aa55e"/>
<circle cx="156.7" cy="233.8" r="1.9" fill="#2aa55e"/>
<circle cx="163.4" cy="230.8" r="1.9" fill="#e8474f"/>
<circle cx="168.7" cy="225.5" r="1.9" fill="#2aa55e"/>
<circle cx="222.3" cy="187.2" r="1.9" fill="#e8474f"/>
<circle cx="216.7" cy="189.1" r="1.9" fill="#8a84c8"/>
<circle cx="162.7" cy="228.4" r="1.9" fill="#2aa55e"/>
<circle cx="178.4" cy="216.2" r="1.9" fill="#2aa55e"/>
<circle cx="184.1" cy="213.9" r="1.9" fill="#2aa55e"/>
<circle cx="149.4" cy="241.8" r="1.9" fill="#2aa55e"/>
<circle cx="186.8" cy="211.0" r="1.9" fill="#f09a3a"/>
<circle cx="169.1" cy="221.6" r="1.9" fill="#2aa55e"/>
<circle cx="211.3" cy="188.3" r="1.9" fill="#2aa55e"/>
<circle cx="209.1" cy="193.9" r="1.9" fill="#f09a3a"/>
<circle cx="150.1" cy="237.8" r="1.9" fill="#2aa55e"/>
<circle cx="166.6" cy="230.1" r="1.9" fill="#e8474f"/>
<circle cx="149.5" cy="243.8" r="1.9" fill="#2aa55e"/>
<circle cx="192.6" cy="206.7" r="1.9" fill="#f09a3a"/>
<circle cx="186.4" cy="211.0" r="1.9" fill="#2aa55e"/>
<circle cx="145.0" cy="241.5" r="1.9" fill="#2aa55e"/>
<circle cx="159.9" cy="229.5" r="1.9" fill="#8a84c8"/>
<circle cx="153.4" cy="238.9" r="1.9" fill="#2aa55e"/>
<circle cx="160.8" cy="231.1" r="1.9" fill="#2aa55e"/>
<circle cx="196.4" cy="204.2" r="1.9" fill="#f09a3a"/>
<circle cx="194.1" cy="204.9" r="1.9" fill="#2aa55e"/>
<circle cx="195.1" cy="208.3" r="1.9" fill="#8a84c8"/>
<circle cx="183.2" cy="213.9" r="1.9" fill="#2aa55e"/>
<circle cx="179.9" cy="220.1" r="1.9" fill="#2aa55e"/>
<circle cx="197.4" cy="199.3" r="1.9" fill="#e8474f"/>
<circle cx="165.9" cy="229.0" r="1.9" fill="#2aa55e"/>
<circle cx="216.3" cy="190.4" r="1.9" fill="#e8474f"/>
<circle cx="166.1" cy="223.4" r="1.9" fill="#f09a3a"/>
<circle cx="199.3" cy="202.2" r="1.9" fill="#e8474f"/>
<circle cx="222.8" cy="183.9" r="1.9" fill="#e8474f"/>
<circle cx="216.5" cy="185.3" r="1.9" fill="#f09a3a"/>
<circle cx="158.6" cy="237.4" r="1.9" fill="#8a84c8"/>
<circle cx="161.2" cy="228.4" r="1.9" fill="#e8474f"/>
<circle cx="160.4" cy="231.2" r="1.9" fill="#2aa55e"/>
<circle cx="175.4" cy="223.3" r="1.9" fill="#e8474f"/>
<circle cx="223.5" cy="186.4" r="1.9" fill="#f09a3a"/>
<circle cx="182.8" cy="214.2" r="1.9" fill="#2aa55e"/>
<circle cx="147.1" cy="246.7" r="1.9" fill="#2aa55e"/>
<circle cx="215.8" cy="189.8" r="1.9" fill="#f09a3a"/>
<circle cx="191.8" cy="207.2" r="1.9" fill="#2aa55e"/>
<circle cx="147.6" cy="239.6" r="1.9" fill="#2aa55e"/>
<circle cx="157.9" cy="238.5" r="1.9" fill="#2aa55e"/>
<circle cx="147.5" cy="240.0" r="1.9" fill="#2aa55e"/>
<circle cx="148.4" cy="238.6" r="1.9" fill="#2aa55e"/>
<circle cx="213.5" cy="190.5" r="1.9" fill="#2aa55e"/>
<circle cx="221.4" cy="185.9" r="1.9" fill="#8a84c8"/>
<circle cx="215.4" cy="189.7" r="1.9" fill="#8a84c8"/>
<circle cx="175.7" cy="217.2" r="1.9" fill="#2aa55e"/>
<circle cx="147.7" cy="246.2" r="1.9" fill="#2aa55e"/>
<circle cx="205.3" cy="192.3" r="1.9" fill="#8a84c8"/>
<circle cx="195.6" cy="203.4" r="1.9" fill="#2aa55e"/>
<circle cx="208.4" cy="194.1" r="1.9" fill="#2aa55e"/>
<circle cx="171.9" cy="220.4" r="1.9" fill="#2aa55e"/>
<circle cx="219.4" cy="184.1" r="1.9" fill="#8a84c8"/>
<circle cx="217.8" cy="188.9" r="1.9" fill="#f09a3a"/>
<circle cx="183.1" cy="211.7" r="1.9" fill="#8a84c8"/>
<circle cx="208.1" cy="189.8" r="1.9" fill="#f09a3a"/>
<circle cx="152.9" cy="238.2" r="1.9" fill="#2aa55e"/>
<circle cx="190.3" cy="209.8" r="1.9" fill="#8a84c8"/>
<circle cx="191.0" cy="205.5" r="1.9" fill="#f09a3a"/>
<circle cx="186.9" cy="208.7" r="1.9" fill="#8a84c8"/>
<circle cx="149.3" cy="240.1" r="1.9" fill="#2aa55e"/>
<circle cx="200.6" cy="202.3" r="1.9" fill="#e8474f"/>
<circle cx="192.4" cy="210.2" r="1.9" fill="#f09a3a"/>
<circle cx="191.2" cy="204.2" r="1.9" fill="#8a84c8"/>
<circle cx="220.1" cy="184.9" r="1.9" fill="#2aa55e"/>
<circle cx="220.1" cy="187.9" r="1.9" fill="#f09a3a"/>
<circle cx="224.3" cy="184.5" r="1.9" fill="#2aa55e"/>
<circle cx="171.1" cy="219.5" r="1.9" fill="#e8474f"/>
<circle cx="216.3" cy="189.3" r="1.9" fill="#f09a3a"/>
<circle cx="196.7" cy="201.6" r="1.9" fill="#2aa55e"/>
<circle cx="179.2" cy="217.2" r="1.9" fill="#2aa55e"/>
<circle cx="223.6" cy="185.2" r="1.9" fill="#e8474f"/>
<circle cx="155.2" cy="237.4" r="1.9" fill="#2aa55e"/>
<circle cx="193.4" cy="201.3" r="1.9" fill="#f09a3a"/>
<circle cx="186.7" cy="214.0" r="1.9" fill="#f09a3a"/>
<circle cx="189.3" cy="207.1" r="1.9" fill="#f09a3a"/>
<circle cx="200.1" cy="197.8" r="1.9" fill="#2aa55e"/>
<circle cx="171.7" cy="224.3" r="1.9" fill="#8a84c8"/>
<circle cx="185.6" cy="209.6" r="1.9" fill="#8a84c8"/>
<circle cx="211.1" cy="191.5" r="1.9" fill="#8a84c8"/>
<circle cx="223.0" cy="186.1" r="1.9" fill="#f09a3a"/>
<circle cx="172.9" cy="219.4" r="1.9" fill="#e8474f"/>
<circle cx="165.7" cy="232.1" r="1.9" fill="#e8474f"/>
<circle cx="158.2" cy="235.5" r="1.9" fill="#2aa55e"/>
<circle cx="157.1" cy="231.8" r="1.9" fill="#2aa55e"/>
<circle cx="168.8" cy="223.2" r="1.9" fill="#2aa55e"/>
<circle cx="217.9" cy="186.0" r="1.9" fill="#e8474f"/>
<circle cx="182.1" cy="210.0" r="1.9" fill="#e8474f"/>
<circle cx="179.9" cy="213.6" r="1.9" fill="#e8474f"/>
<circle cx="168.7" cy="220.9" r="1.9" fill="#2aa55e"/>
<circle cx="204.1" cy="192.5" r="1.9" fill="#2aa55e"/>
<circle cx="213.2" cy="190.3" r="1.9" fill="#f09a3a"/>
<circle cx="196.8" cy="205.6" r="1.9" fill="#8a84c8"/>
<circle cx="197.2" cy="205.6" r="1.9" fill="#8a84c8"/>
<circle cx="191.7" cy="204.4" r="1.9" fill="#2aa55e"/>
<circle cx="154.9" cy="236.1" r="1.9" fill="#2aa55e"/>
<circle cx="201.1" cy="202.6" r="1.9" fill="#2aa55e"/>
<circle cx="177.0" cy="220.6" r="1.9" fill="#2aa55e"/>
<circle cx="213.0" cy="189.0" r="1.9" fill="#2aa55e"/>
<circle cx="213.7" cy="189.0" r="1.9" fill="#8a84c8"/>
<circle cx="214.8" cy="190.8" r="1.9" fill="#2aa55e"/>
<circle cx="145.9" cy="246.8" r="1.9" fill="#2aa55e"/>
<circle cx="153.5" cy="235.8" r="1.9" fill="#2aa55e"/>
<circle cx="202.3" cy="202.1" r="1.9" fill="#2aa55e"/>
<circle cx="172.9" cy="225.3" r="1.9" fill="#f09a3a"/>
<circle cx="161.4" cy="231.2" r="1.9" fill="#2aa55e"/>
<circle cx="208.4" cy="192.0" r="1.9" fill="#2aa55e"/>
<circle cx="204.4" cy="196.1" r="1.9" fill="#e8474f"/>
<circle cx="159.7" cy="232.9" r="1.9" fill="#e8474f"/>
<circle cx="203.3" cy="198.3" r="1.9" fill="#8a84c8"/>
<circle cx="165.2" cy="227.2" r="1.9" fill="#2aa55e"/>
<circle cx="151.0" cy="243.4" r="1.9" fill="#2aa55e"/>
<circle cx="199.0" cy="201.5" r="1.9" fill="#2aa55e"/>
<circle cx="169.3" cy="224.0" r="1.9" fill="#e8474f"/>
<circle cx="222.7" cy="187.6" r="1.9" fill="#e8474f"/>
<circle cx="182.0" cy="211.5" r="1.9" fill="#e8474f"/>
<circle cx="150.5" cy="242.8" r="1.9" fill="#2aa55e"/>
<circle cx="196.4" cy="204.9" r="1.9" fill="#8a84c8"/>
<circle cx="156.7" cy="236.7" r="1.9" fill="#f09a3a"/>
<circle cx="208.6" cy="192.2" r="1.9" fill="#e8474f"/>
<circle cx="205.8" cy="196.4" r="1.9" fill="#8a84c8"/>
<circle cx="182.6" cy="216.7" r="1.9" fill="#2aa55e"/>
<circle cx="201.3" cy="200.6" r="1.9" fill="#e8474f"/>
<circle cx="199.3" cy="200.4" r="1.9" fill="#8a84c8"/>
<circle cx="208.9" cy="191.5" r="1.9" fill="#8a84c8"/>
<circle cx="170.6" cy="223.7" r="1.9" fill="#f09a3a"/>
<circle cx="151.8" cy="242.6" r="1.9" fill="#2aa55e"/>
<circle cx="169.3" cy="223.8" r="1.9" fill="#2aa55e"/>
<circle cx="190.2" cy="206.5" r="1.9" fill="#e8474f"/>
<circle cx="187.5" cy="208.8" r="1.9" fill="#f09a3a"/>
<circle cx="197.6" cy="199.4" r="1.9" fill="#2aa55e"/>
<circle cx="168.4" cy="226.6" r="1.9" fill="#f09a3a"/>
<circle cx="213.3" cy="187.0" r="1.9" fill="#f09a3a"/>
<circle cx="207.8" cy="191.3" r="1.9" fill="#f09a3a"/>
<circle cx="187.8" cy="210.9" r="1.9" fill="#8a84c8"/>
<circle cx="223.2" cy="182.7" r="1.9" fill="#e8474f"/>
<circle cx="188.9" cy="210.2" r="1.9" fill="#2aa55e"/>
<circle cx="184.6" cy="209.9" r="1.9" fill="#2aa55e"/>
<circle cx="212.1" cy="190.9" r="1.9" fill="#2aa55e"/>
<circle cx="154.5" cy="236.4" r="1.9" fill="#f09a3a"/>
<circle cx="182.9" cy="214.4" r="1.9" fill="#f09a3a"/>
<circle cx="217.4" cy="188.6" r="1.9" fill="#2aa55e"/>
<circle cx="158.2" cy="234.9" r="1.9" fill="#f09a3a"/>
<circle cx="157.8" cy="232.7" r="1.9" fill="#2aa55e"/>
<circle cx="184.8" cy="210.5" r="1.9" fill="#f09a3a"/>
<circle cx="179.1" cy="221.6" r="1.9" fill="#8a84c8"/>
<circle cx="159.4" cy="231.7" r="1.9" fill="#2aa55e"/>
<circle cx="146.6" cy="240.0" r="1.9" fill="#2aa55e"/>
<circle cx="224.9" cy="185.4" r="1.9" fill="#2aa55e"/>
<circle cx="183.7" cy="215.5" r="1.9" fill="#2aa55e"/>
<circle cx="162.1" cy="230.1" r="1.9" fill="#2aa55e"/>
<circle cx="152.6" cy="240.0" r="1.9" fill="#2aa55e"/>
<circle cx="207.3" cy="194.4" r="1.9" fill="#e8474f"/>
<circle cx="167.7" cy="224.7" r="1.9" fill="#2aa55e"/>
<circle cx="149.2" cy="239.7" r="1.9" fill="#2aa55e"/>
<circle cx="184.5" cy="211.0" r="1.9" fill="#e8474f"/>
<circle cx="214.8" cy="187.5" r="1.9" fill="#2aa55e"/>
<circle cx="184.4" cy="209.2" r="1.9" fill="#2aa55e"/>
<circle cx="202.1" cy="195.1" r="1.9" fill="#e8474f"/>
<circle cx="152.0" cy="243.3" r="1.9" fill="#2aa55e"/>
<circle cx="189.3" cy="207.8" r="1.9" fill="#f09a3a"/>
<circle cx="176.9" cy="214.9" r="1.9" fill="#2aa55e"/>
<circle cx="210.8" cy="190.8" r="1.9" fill="#8a84c8"/>
<circle cx="149.8" cy="240.9" r="1.9" fill="#2aa55e"/>
<circle cx="175.1" cy="216.7" r="1.9" fill="#8a84c8"/>
<circle cx="200.1" cy="203.2" r="1.9" fill="#2aa55e"/>
<circle cx="148.2" cy="243.4" r="1.9" fill="#2aa55e"/>
<circle cx="158.9" cy="234.9" r="1.9" fill="#8a84c8"/>
<circle cx="178.7" cy="213.4" r="1.9" fill="#e8474f"/>
<circle cx="146.1" cy="246.9" r="1.9" fill="#2aa55e"/>
<circle cx="169.7" cy="226.5" r="1.9" fill="#e8474f"/>
<circle cx="159.8" cy="228.5" r="1.9" fill="#2aa55e"/>
<circle cx="190.3" cy="208.6" r="1.9" fill="#e8474f"/>
<circle cx="184.8" cy="212.5" r="1.9" fill="#8a84c8"/>
<circle cx="206.9" cy="193.7" r="1.9" fill="#8a84c8"/>
<circle cx="177.4" cy="214.2" r="1.9" fill="#8a84c8"/>
<circle cx="192.5" cy="210.4" r="1.9" fill="#8a84c8"/>
<circle cx="157.4" cy="237.1" r="1.9" fill="#2aa55e"/>
<circle cx="151.6" cy="239.2" r="1.9" fill="#f09a3a"/>
<circle cx="195.2" cy="203.3" r="1.9" fill="#2aa55e"/>
<circle cx="198.5" cy="205.4" r="1.9" fill="#e8474f"/>
<circle cx="162.5" cy="227.0" r="1.9" fill="#2aa55e"/>
<circle cx="167.0" cy="227.4" r="1.9" fill="#2aa55e"/>
<circle cx="204.5" cy="199.8" r="1.9" fill="#2aa55e"/>
<circle cx="204.8" cy="197.7" r="1.9" fill="#2aa55e"/>
<circle cx="205.7" cy="193.6" r="1.9" fill="#f09a3a"/>
<circle cx="184.8" cy="213.8" r="1.9" fill="#e8474f"/>
<circle cx="218.1" cy="184.6" r="1.9" fill="#2aa55e"/>
<circle cx="149.8" cy="244.0" r="1.9" fill="#2aa55e"/>
<circle cx="194.5" cy="203.5" r="1.9" fill="#2aa55e"/>
<circle cx="193.0" cy="209.7" r="1.9" fill="#e8474f"/>
<circle cx="193.7" cy="203.5" r="1.9" fill="#e8474f"/>
<circle cx="203.2" cy="197.1" r="1.9" fill="#2aa55e"/>
<circle cx="222.3" cy="183.2" r="1.9" fill="#e8474f"/>
<circle cx="158.1" cy="236.8" r="1.9" fill="#2aa55e"/>
<circle cx="207.2" cy="193.6" r="1.9" fill="#2aa55e"/>
<circle cx="205.4" cy="194.2" r="1.9" fill="#2aa55e"/>
<circle cx="194.7" cy="205.6" r="1.9" fill="#8a84c8"/>
<circle cx="193.0" cy="208.9" r="1.9" fill="#8a84c8"/>
<circle cx="146.2" cy="241.1" r="1.9" fill="#2aa55e"/>
<circle cx="191.8" cy="210.8" r="1.9" fill="#2aa55e"/>
<circle cx="176.0" cy="218.2" r="1.9" fill="#8a84c8"/>
<circle cx="163.7" cy="229.0" r="1.9" fill="#f09a3a"/>
<circle cx="170.7" cy="221.5" r="1.9" fill="#2aa55e"/>
<circle cx="218.6" cy="188.5" r="1.9" fill="#8a84c8"/>
<circle cx="168.1" cy="222.5" r="1.9" fill="#e8474f"/>
<circle cx="224.4" cy="182.4" r="1.9" fill="#e8474f"/>
<circle cx="208.8" cy="193.0" r="1.9" fill="#8a84c8"/>
<circle cx="185.0" cy="212.5" r="1.9" fill="#f09a3a"/>
<circle cx="183.8" cy="212.1" r="1.9" fill="#8a84c8"/>
<circle cx="202.8" cy="202.0" r="1.9" fill="#2aa55e"/>
<circle cx="149.6" cy="240.2" r="1.9" fill="#2aa55e"/>
<circle cx="219.1" cy="187.3" r="1.9" fill="#2aa55e"/>
<circle cx="175.8" cy="220.0" r="1.9" fill="#f09a3a"/>
<circle cx="173.4" cy="217.3" r="1.9" fill="#2aa55e"/>
<circle cx="186.7" cy="208.7" r="1.9" fill="#e8474f"/>
<circle cx="170.7" cy="223.8" r="1.9" fill="#2aa55e"/>
<circle cx="162.0" cy="227.1" r="1.9" fill="#8a84c8"/>
<circle cx="168.2" cy="226.6" r="1.9" fill="#2aa55e"/>
<circle cx="207.4" cy="196.6" r="1.9" fill="#2aa55e"/>
<circle cx="218.8" cy="186.9" r="1.9" fill="#e8474f"/>
<circle cx="174.7" cy="220.1" r="1.9" fill="#2aa55e"/>
<circle cx="170.3" cy="219.6" r="1.9" fill="#2aa55e"/>
<circle cx="193.6" cy="201.7" r="1.9" fill="#2aa55e"/>
<circle cx="214.7" cy="188.9" r="1.9" fill="#f09a3a"/>
<circle cx="162.1" cy="234.8" r="1.9" fill="#2aa55e"/>
<circle cx="152.8" cy="238.0" r="1.9" fill="#2aa55e"/>
<circle cx="193.7" cy="201.9" r="1.9" fill="#e8474f"/>
<circle cx="172.1" cy="227.3" r="1.9" fill="#2aa55e"/>
<circle cx="147.2" cy="239.4" r="1.9" fill="#2aa55e"/>
<circle cx="201.4" cy="198.7" r="1.9" fill="#e8474f"/>
<circle cx="216.6" cy="189.9" r="1.9" fill="#8a84c8"/>
<circle cx="218.8" cy="188.1" r="1.9" fill="#2aa55e"/>
<circle cx="170.5" cy="221.4" r="1.9" fill="#2aa55e"/>
<circle cx="218.7" cy="187.0" r="1.9" fill="#2aa55e"/>
<circle cx="213.0" cy="188.3" r="1.9" fill="#2aa55e"/>
<circle cx="202.7" cy="195.0" r="1.9" fill="#e8474f"/>
<circle cx="220.3" cy="183.8" r="1.9" fill="#f09a3a"/>
<circle cx="147.2" cy="246.4" r="1.9" fill="#2aa55e"/>
<circle cx="186.1" cy="213.4" r="1.9" fill="#8a84c8"/>
<circle cx="183.7" cy="209.6" r="1.9" fill="#2aa55e"/>
<circle cx="145.5" cy="242.2" r="1.9" fill="#2aa55e"/>
<circle cx="192.2" cy="205.8" r="1.9" fill="#8a84c8"/>
<circle cx="182.7" cy="212.9" r="1.9" fill="#f09a3a"/>
<circle cx="175.0" cy="219.0" r="1.9" fill="#f09a3a"/>
<circle cx="209.6" cy="194.9" r="1.9" fill="#e8474f"/>
<circle cx="182.4" cy="218.0" r="1.9" fill="#8a84c8"/>
<circle cx="157.6" cy="237.5" r="1.9" fill="#2aa55e"/>
<circle cx="194.5" cy="203.4" r="1.9" fill="#8a84c8"/>
<circle cx="207.3" cy="197.5" r="1.9" fill="#e8474f"/>
<circle cx="175.8" cy="214.9" r="1.9" fill="#2aa55e"/>
<circle cx="222.8" cy="184.1" r="1.9" fill="#2aa55e"/>
<circle cx="154.2" cy="236.1" r="1.9" fill="#2aa55e"/>
<circle cx="203.9" cy="194.1" r="1.9" fill="#f09a3a"/>
<circle cx="216.1" cy="187.6" r="1.9" fill="#2aa55e"/>
<circle cx="178.5" cy="215.0" r="1.9" fill="#2aa55e"/>
<circle cx="190.7" cy="205.8" r="1.9" fill="#8a84c8"/>
<circle cx="165.9" cy="224.1" r="1.9" fill="#2aa55e"/>
<circle cx="183.6" cy="210.1" r="1.9" fill="#f09a3a"/>
<circle cx="195.5" cy="206.2" r="1.9" fill="#e8474f"/>
<circle cx="189.8" cy="211.2" r="1.9" fill="#2aa55e"/>
<circle cx="205.4" cy="199.4" r="1.9" fill="#f09a3a"/>
<circle cx="165.9" cy="225.2" r="1.9" fill="#2aa55e"/>
<circle cx="176.2" cy="218.4" r="1.9" fill="#2aa55e"/>
<circle cx="211.6" cy="193.4" r="1.9" fill="#2aa55e"/>
<circle cx="196.2" cy="202.6" r="1.9" fill="#f09a3a"/>
<circle cx="185.9" cy="210.9" r="1.9" fill="#8a84c8"/>
<circle cx="220.5" cy="185.0" r="1.9" fill="#2aa55e"/>
<circle cx="148.2" cy="241.5" r="1.9" fill="#2aa55e"/>
<circle cx="159.5" cy="236.1" r="1.9" fill="#2aa55e"/>
<circle cx="163.4" cy="226.7" r="1.9" fill="#2aa55e"/>
<circle cx="211.3" cy="193.1" r="1.9" fill="#8a84c8"/>
<circle cx="205.9" cy="192.5" r="1.9" fill="#2aa55e"/>
<circle cx="198.6" cy="202.3" r="1.9" fill="#2aa55e"/>
<circle cx="169.6" cy="219.9" r="1.9" fill="#8a84c8"/>
<circle cx="186.6" cy="213.9" r="1.9" fill="#e8474f"/>
<circle cx="186.5" cy="209.6" r="1.9" fill="#2aa55e"/>
<circle cx="196.1" cy="207.0" r="1.9" fill="#2aa55e"/>
<circle cx="177.8" cy="220.5" r="1.9" fill="#2aa55e"/>
<circle cx="198.2" cy="199.3" r="1.9" fill="#f09a3a"/>
<circle cx="223.9" cy="182.1" r="1.9" fill="#8a84c8"/>
<circle cx="191.0" cy="210.4" r="1.9" fill="#2aa55e"/>
<circle cx="219.6" cy="189.3" r="1.9" fill="#2aa55e"/>
<circle cx="173.5" cy="218.9" r="1.9" fill="#8a84c8"/>
<circle cx="218.0" cy="188.8" r="1.9" fill="#e8474f"/>
<circle cx="191.1" cy="210.7" r="1.9" fill="#2aa55e"/>
<circle cx="153.6" cy="239.8" r="1.9" fill="#2aa55e"/>
<circle cx="147.1" cy="245.6" r="1.9" fill="#2aa55e"/>
<circle cx="164.5" cy="225.0" r="1.9" fill="#f09a3a"/>
<circle cx="158.4" cy="232.1" r="1.9" fill="#2aa55e"/>
<circle cx="221.4" cy="183.1" r="1.9" fill="#e8474f"/>
<circle cx="204.1" cy="194.6" r="1.9" fill="#e8474f"/>
<circle cx="195.9" cy="203.0" r="1.9" fill="#2aa55e"/>
<circle cx="180.5" cy="214.4" r="1.9" fill="#2aa55e"/>
<circle cx="159.3" cy="231.0" r="1.9" fill="#2aa55e"/>
<circle cx="191.9" cy="208.9" r="1.9" fill="#2aa55e"/>
<circle cx="154.7" cy="240.2" r="1.9" fill="#2aa55e"/>
<circle cx="163.2" cy="227.4" r="1.9" fill="#f09a3a"/>
<circle cx="182.0" cy="213.6" r="1.9" fill="#e8474f"/>
<circle cx="146.5" cy="244.7" r="1.9" fill="#2aa55e"/>
<circle cx="192.8" cy="206.8" r="1.9" fill="#2aa55e"/>
<circle cx="222.6" cy="182.7" r="1.9" fill="#2aa55e"/>
<circle cx="177.1" cy="221.8" r="1.9" fill="#8a84c8"/>
<circle cx="212.4" cy="190.0" r="1.9" fill="#e8474f"/>
<circle cx="170.7" cy="222.8" r="1.9" fill="#f09a3a"/>
<circle cx="171.0" cy="220.1" r="1.9" fill="#8a84c8"/>
<circle cx="173.3" cy="225.2" r="1.9" fill="#8a84c8"/>
<circle cx="145.9" cy="241.1" r="1.9" fill="#2aa55e"/>
<circle cx="170.9" cy="220.7" r="1.9" fill="#f09a3a"/>
<circle cx="163.0" cy="229.3" r="1.9" fill="#2aa55e"/>
<circle cx="224.8" cy="183.7" r="1.9" fill="#2aa55e"/>
<circle cx="223.4" cy="187.1" r="1.9" fill="#2aa55e"/>
<circle cx="214.2" cy="189.4" r="1.9" fill="#e8474f"/>
<circle cx="194.9" cy="205.3" r="1.9" fill="#8a84c8"/>
<circle cx="147.9" cy="239.3" r="1.9" fill="#2aa55e"/>
<circle cx="146.1" cy="241.9" r="1.9" fill="#2aa55e"/>
<circle cx="154.0" cy="236.1" r="1.9" fill="#2aa55e"/>
<circle cx="149.8" cy="244.7" r="1.9" fill="#f09a3a"/>
<circle cx="217.1" cy="185.1" r="1.9" fill="#f09a3a"/>
<circle cx="219.6" cy="186.3" r="1.9" fill="#f09a3a"/>
<circle cx="215.8" cy="190.5" r="1.9" fill="#f09a3a"/>
<circle cx="166.9" cy="229.1" r="1.9" fill="#8a84c8"/>
<circle cx="168.0" cy="225.6" r="1.9" fill="#f09a3a"/>
<circle cx="162.7" cy="229.2" r="1.9" fill="#2aa55e"/>
<circle cx="174.3" cy="224.5" r="1.9" fill="#2aa55e"/>
<circle cx="183.2" cy="216.5" r="1.9" fill="#2aa55e"/>
<circle cx="171.7" cy="219.9" r="1.9" fill="#f09a3a"/>
<circle cx="222.6" cy="184.6" r="1.9" fill="#e8474f"/>
<circle cx="158.0" cy="238.3" r="1.9" fill="#2aa55e"/>
<circle cx="171.0" cy="221.3" r="1.9" fill="#e8474f"/>
<circle cx="162.3" cy="226.6" r="1.9" fill="#2aa55e"/>
<circle cx="189.1" cy="209.8" r="1.9" fill="#2aa55e"/>
<circle cx="197.6" cy="202.1" r="1.9" fill="#e8474f"/>
<circle cx="173.3" cy="224.1" r="1.9" fill="#f09a3a"/>
<circle cx="224.1" cy="185.2" r="1.9" fill="#e8474f"/>
<circle cx="178.3" cy="219.1" r="1.9" fill="#2aa55e"/>
<circle cx="161.2" cy="232.6" r="1.9" fill="#2aa55e"/>
<circle cx="212.1" cy="187.3" r="1.9" fill="#e8474f"/>
<circle cx="218.8" cy="189.8" r="1.9" fill="#2aa55e"/>
<circle cx="195.5" cy="204.9" r="1.9" fill="#8a84c8"/>
<circle cx="178.0" cy="214.0" r="1.9" fill="#f09a3a"/>
<circle cx="189.0" cy="205.6" r="1.9" fill="#f09a3a"/>
<circle cx="224.4" cy="182.4" r="1.9" fill="#e8474f"/>
<circle cx="167.3" cy="227.7" r="1.9" fill="#2aa55e"/>
<circle cx="213.1" cy="190.3" r="1.9" fill="#2aa55e"/>
<circle cx="173.2" cy="220.3" r="1.9" fill="#f09a3a"/>
<circle cx="192.6" cy="207.3" r="1.9" fill="#2aa55e"/>
<circle cx="204.7" cy="200.2" r="1.9" fill="#f09a3a"/>
<circle cx="169.0" cy="225.5" r="1.9" fill="#8a84c8"/>
<circle cx="179.9" cy="215.1" r="1.9" fill="#2aa55e"/>
<circle cx="210.7" cy="189.9" r="1.9" fill="#e8474f"/>
<circle cx="193.6" cy="202.9" r="1.9" fill="#2aa55e"/>
<circle cx="222.8" cy="187.1" r="1.9" fill="#e8474f"/>
<circle cx="147.0" cy="241.3" r="1.9" fill="#2aa55e"/>
<circle cx="169.0" cy="225.5" r="1.9" fill="#2aa55e"/>
<circle cx="194.6" cy="203.8" r="1.9" fill="#8a84c8"/>
<circle cx="203.2" cy="196.8" r="1.9" fill="#f09a3a"/>
<circle cx="148.3" cy="243.6" r="1.9" fill="#2aa55e"/>
<circle cx="145.8" cy="240.8" r="1.9" fill="#2aa55e"/>
<circle cx="177.8" cy="218.0" r="1.9" fill="#8a84c8"/>
<circle cx="219.3" cy="184.7" r="1.9" fill="#2aa55e"/>
<circle cx="178.7" cy="216.3" r="1.9" fill="#8a84c8"/>
<circle cx="216.9" cy="188.1" r="1.9" fill="#8a84c8"/>
<circle cx="204.7" cy="192.8" r="1.9" fill="#2aa55e"/>
<circle cx="174.3" cy="216.6" r="1.9" fill="#2aa55e"/>
<circle cx="159.0" cy="234.7" r="1.9" fill="#2aa55e"/>
<circle cx="172.5" cy="226.5" r="1.9" fill="#f09a3a"/>
<circle cx="222.7" cy="185.7" r="1.9" fill="#f09a3a"/>
<circle cx="210.3" cy="189.4" r="1.9" fill="#e8474f"/>
<circle cx="178.0" cy="213.6" r="1.9" fill="#f09a3a"/>
<circle cx="153.5" cy="238.5" r="1.9" fill="#2aa55e"/>
<circle cx="202.8" cy="199.4" r="1.9" fill="#2aa55e"/>
<circle cx="145.2" cy="246.3" r="1.9" fill="#2aa55e"/>
<circle cx="218.4" cy="186.5" r="1.9" fill="#2aa55e"/>
<circle cx="146.2" cy="240.2" r="1.9" fill="#2aa55e"/>
<circle cx="206.5" cy="195.1" r="1.9" fill="#e8474f"/>
<circle cx="216.6" cy="187.8" r="1.9" fill="#2aa55e"/>
<circle cx="160.9" cy="232.8" r="1.9" fill="#2aa55e"/>
<circle cx="186.5" cy="211.0" r="1.9" fill="#2aa55e"/>
<circle cx="151.1" cy="243.6" r="1.9" fill="#2aa55e"/>
<circle cx="182.4" cy="213.6" r="1.9" fill="#8a84c8"/>
<circle cx="197.0" cy="204.0" r="1.9" fill="#f09a3a"/>
<circle cx="156.5" cy="233.1" r="1.9" fill="#2aa55e"/>
<circle cx="147.6" cy="243.7" r="1.9" fill="#2aa55e"/>
<circle cx="220.8" cy="183.6" r="1.9" fill="#2aa55e"/>
<circle cx="194.9" cy="200.0" r="1.9" fill="#2aa55e"/>
<circle cx="176.7" cy="221.4" r="1.9" fill="#2aa55e"/>
<circle cx="149.4" cy="239.2" r="1.9" fill="#2aa55e"/>
<circle cx="157.8" cy="235.2" r="1.9" fill="#2aa55e"/>
<circle cx="145.5" cy="247.3" r="1.9" fill="#2aa55e"/>
<circle cx="178.5" cy="215.1" r="1.9" fill="#e8474f"/>
<circle cx="223.4" cy="182.5" r="1.9" fill="#8a84c8"/>
<circle cx="199.0" cy="201.6" r="1.9" fill="#f09a3a"/>
<circle cx="176.9" cy="220.7" r="1.9" fill="#2aa55e"/>
<circle cx="214.5" cy="186.0" r="1.9" fill="#2aa55e"/>
<circle cx="175.3" cy="215.2" r="1.9" fill="#e8474f"/>
<circle cx="176.7" cy="217.5" r="1.9" fill="#2aa55e"/>
<circle cx="214.7" cy="187.5" r="1.9" fill="#8a84c8"/>
<circle cx="221.9" cy="185.0" r="1.9" fill="#e8474f"/>
<circle cx="189.3" cy="207.7" r="1.9" fill="#f09a3a"/>
<circle cx="172.6" cy="221.6" r="1.9" fill="#2aa55e"/>
<circle cx="147.0" cy="245.6" r="1.9" fill="#2aa55e"/>
<circle cx="155.4" cy="233.7" r="1.9" fill="#2aa55e"/>
<circle cx="208.0" cy="193.8" r="1.9" fill="#f09a3a"/>
<circle cx="208.6" cy="190.9" r="1.9" fill="#2aa55e"/>
<circle cx="162.3" cy="229.8" r="1.9" fill="#2aa55e"/>
<circle cx="191.5" cy="205.2" r="1.9" fill="#f09a3a"/>
<circle cx="161.4" cy="234.7" r="1.9" fill="#f09a3a"/>
<circle cx="220.4" cy="189.1" r="1.9" fill="#f09a3a"/>
<circle cx="180.2" cy="220.6" r="1.9" fill="#f09a3a"/>
<circle cx="177.3" cy="218.4" r="1.9" fill="#2aa55e"/>
<circle cx="205.1" cy="197.3" r="1.9" fill="#2aa55e"/>
<circle cx="213.1" cy="190.5" r="1.9" fill="#8a84c8"/>
<circle cx="147.3" cy="244.7" r="1.9" fill="#2aa55e"/>
<circle cx="146.2" cy="245.5" r="1.9" fill="#2aa55e"/>
<circle cx="207.1" cy="192.1" r="1.9" fill="#2aa55e"/>
<circle cx="216.3" cy="185.3" r="1.9" fill="#e8474f"/>
<circle cx="209.4" cy="194.0" r="1.9" fill="#2aa55e"/>
<circle cx="202.5" cy="194.4" r="1.9" fill="#2aa55e"/>
<circle cx="210.3" cy="190.7" r="1.9" fill="#2aa55e"/>
<circle cx="212.5" cy="189.3" r="1.9" fill="#8a84c8"/>
<circle cx="195.3" cy="207.0" r="1.9" fill="#e8474f"/>
<circle cx="159.1" cy="232.1" r="1.9" fill="#f09a3a"/>
<circle cx="200.3" cy="203.2" r="1.9" fill="#2aa55e"/>
<circle cx="201.3" cy="198.6" r="1.9" fill="#e8474f"/>
<circle cx="177.0" cy="222.4" r="1.9" fill="#2aa55e"/>
<circle cx="168.3" cy="223.5" r="1.9" fill="#f09a3a"/>
<circle cx="162.5" cy="232.1" r="1.9" fill="#2aa55e"/>
<circle cx="193.7" cy="204.5" r="1.9" fill="#8a84c8"/>
<circle cx="157.5" cy="236.7" r="1.9" fill="#2aa55e"/>
<circle cx="195.4" cy="207.6" r="1.9" fill="#f09a3a"/>
<circle cx="163.2" cy="229.9" r="1.9" fill="#2aa55e"/>
<circle cx="219.1" cy="187.8" r="1.9" fill="#f09a3a"/>
<circle cx="219.9" cy="184.3" r="1.9" fill="#8a84c8"/>
<circle cx="197.4" cy="205.6" r="1.9" fill="#e8474f"/>
<circle cx="191.8" cy="208.4" r="1.9" fill="#e8474f"/>
<circle cx="199.5" cy="196.4" r="1.9" fill="#2aa55e"/>
<circle cx="207.2" cy="192.9" r="1.9" fill="#e8474f"/>
<circle cx="178.4" cy="219.8" r="1.9" fill="#e8474f"/>
<circle cx="194.2" cy="202.3" r="1.9" fill="#f09a3a"/>
<circle cx="172.9" cy="226.2" r="1.9" fill="#f09a3a"/>
<circle cx="172.2" cy="222.5" r="1.9" fill="#8a84c8"/>
<circle cx="212.1" cy="190.7" r="1.9" fill="#f09a3a"/>
<circle cx="199.1" cy="198.2" r="1.9" fill="#8a84c8"/>
<circle cx="212.7" cy="191.1" r="1.9" fill="#f09a3a"/>
<circle cx="160.1" cy="236.6" r="1.9" fill="#8a84c8"/>
<circle cx="189.7" cy="205.5" r="1.9" fill="#2aa55e"/>
<circle cx="207.5" cy="191.8" r="1.9" fill="#2aa55e"/>
<circle cx="222.1" cy="183.6" r="1.9" fill="#2aa55e"/>
<circle cx="152.4" cy="239.9" r="1.9" fill="#2aa55e"/>
<circle cx="199.9" cy="200.0" r="1.9" fill="#f09a3a"/>
<circle cx="201.4" cy="194.5" r="1.9" fill="#8a84c8"/>
<circle cx="155.6" cy="237.4" r="1.9" fill="#2aa55e"/>
<circle cx="155.7" cy="237.9" r="1.9" fill="#2aa55e"/>
<circle cx="164.3" cy="230.3" r="1.9" fill="#2aa55e"/>
<circle cx="179.0" cy="221.2" r="1.9" fill="#8a84c8"/>
<circle cx="157.4" cy="239.0" r="1.9" fill="#f09a3a"/>
<circle cx="177.5" cy="215.4" r="1.9" fill="#8a84c8"/>
<circle cx="146.0" cy="244.0" r="1.9" fill="#2aa55e"/>
<circle cx="216.7" cy="186.6" r="1.9" fill="#2aa55e"/>
<circle cx="169.7" cy="229.0" r="1.9" fill="#2aa55e"/>
<circle cx="180.6" cy="216.3" r="1.9" fill="#2aa55e"/>
<circle cx="189.6" cy="204.5" r="1.9" fill="#f09a3a"/>
<circle cx="223.4" cy="184.6" r="1.9" fill="#8a84c8"/>
<circle cx="171.5" cy="225.3" r="1.9" fill="#2aa55e"/>
<circle cx="196.6" cy="206.7" r="1.9" fill="#f09a3a"/>
<circle cx="207.7" cy="192.3" r="1.9" fill="#2aa55e"/>
<circle cx="152.3" cy="237.1" r="1.9" fill="#2aa55e"/>
<circle cx="203.5" cy="198.9" r="1.9" fill="#8a84c8"/>
<circle cx="151.3" cy="241.8" r="1.9" fill="#2aa55e"/>
<circle cx="176.6" cy="215.5" r="1.9" fill="#2aa55e"/>
<circle cx="222.0" cy="185.6" r="1.9" fill="#e8474f"/>
<circle cx="199.6" cy="196.9" r="1.9" fill="#8a84c8"/>
<circle cx="169.8" cy="225.6" r="1.9" fill="#2aa55e"/>
<circle cx="196.8" cy="201.4" r="1.9" fill="#2aa55e"/>
<circle cx="155.9" cy="239.6" r="1.9" fill="#f09a3a"/>
<circle cx="165.3" cy="224.1" r="1.9" fill="#2aa55e"/>
<circle cx="209.2" cy="195.3" r="1.9" fill="#e8474f"/>
<circle cx="177.3" cy="214.1" r="1.9" fill="#2aa55e"/>
<circle cx="178.8" cy="219.3" r="1.9" fill="#e8474f"/>
<circle cx="193.2" cy="206.6" r="1.9" fill="#2aa55e"/>
<circle cx="163.2" cy="226.5" r="1.9" fill="#f09a3a"/>
<circle cx="177.1" cy="223.1" r="1.9" fill="#e8474f"/>
<circle cx="183.4" cy="210.9" r="1.9" fill="#2aa55e"/>
<circle cx="147.6" cy="243.7" r="1.9" fill="#2aa55e"/>
<circle cx="185.9" cy="208.2" r="1.9" fill="#2aa55e"/>
<circle cx="149.4" cy="243.0" r="1.9" fill="#2aa55e"/>
<circle cx="150.0" cy="236.7" r="1.9" fill="#8a84c8"/>
<circle cx="159.1" cy="235.3" r="1.9" fill="#2aa55e"/>
<circle cx="145.3" cy="247.0" r="1.9" fill="#2aa55e"/>
<circle cx="190.4" cy="207.5" r="1.9" fill="#f09a3a"/>
<circle cx="186.3" cy="210.4" r="1.9" fill="#f09a3a"/>
<circle cx="195.1" cy="201.0" r="1.9" fill="#f09a3a"/>
<circle cx="193.7" cy="201.5" r="1.9" fill="#8a84c8"/>
<circle cx="202.8" cy="196.3" r="1.9" fill="#8a84c8"/>
<circle cx="190.2" cy="207.3" r="1.9" fill="#2aa55e"/>
<circle cx="197.5" cy="198.9" r="1.9" fill="#e8474f"/>
<circle cx="187.4" cy="211.4" r="1.9" fill="#e8474f"/>
<circle cx="162.8" cy="232.5" r="1.9" fill="#f09a3a"/>
<circle cx="156.8" cy="235.9" r="1.9" fill="#2aa55e"/>
<circle cx="220.5" cy="185.4" r="1.9" fill="#2aa55e"/>
<circle cx="180.3" cy="213.7" r="1.9" fill="#2aa55e"/>
<circle cx="222.5" cy="183.6" r="1.9" fill="#8a84c8"/>
<circle cx="162.7" cy="233.5" r="1.9" fill="#f09a3a"/>
<circle cx="160.0" cy="234.1" r="1.9" fill="#f09a3a"/>
<circle cx="163.2" cy="229.6" r="1.9" fill="#2aa55e"/>
<circle cx="200.7" cy="201.5" r="1.9" fill="#e8474f"/>
<circle cx="190.3" cy="210.9" r="1.9" fill="#8a84c8"/>
<circle cx="209.0" cy="189.8" r="1.9" fill="#f09a3a"/>
<circle cx="185.6" cy="214.7" r="1.9" fill="#e8474f"/>
<circle cx="195.1" cy="208.0" r="1.9" fill="#f09a3a"/>
<path d="M51 324.5 L51 318 Q55 313 62 309.5 L64 313.5 Q58 317 56 324.5Z" fill="#2aa55e"/>
<line x1="51" y1="317.84" x2="240" y2="171.85" stroke="#ee2c24" stroke-width="2.4"/>
</g>
<rect x="52.2" y="173.4" width="186.6" height="151.0" fill="none" stroke="#000" stroke-width="2.0"/>
<circle cx="63.1" cy="191.4" r="2.0" fill="#e66a72"/>
<circle cx="63.1" cy="205.4" r="2.0" fill="#9c9ad2"/>
<circle cx="63.1" cy="219.5" r="2.0" fill="#f2ac62"/>
<circle cx="63.1" cy="233.5" r="2.0" fill="#4cae86"/>
<path d="M149.5 265.8 L167.6 265.8 L167.6 252.2 Z" fill="none" stroke="#000" stroke-width="2" stroke-linejoin="miter"/>
<path d="M292.00 324.6v-4.8M292.00 173.4v4.8M306.13 324.6v-2.6M306.13 173.4v2.6M314.39 324.6v-2.6M314.39 173.4v2.6M320.25 324.6v-2.6M320.25 173.4v2.6M324.80 324.6v-2.6M324.80 173.4v2.6M328.51 324.6v-2.6M328.51 173.4v2.6M331.66 324.6v-2.6M331.66 173.4v2.6M334.38 324.6v-2.6M334.38 173.4v2.6M336.78 324.6v-2.6M336.78 173.4v2.6M338.93 324.6v-4.8M338.93 173.4v4.8M353.05 324.6v-2.6M353.05 173.4v2.6M361.31 324.6v-2.6M361.31 173.4v2.6M367.18 324.6v-2.6M367.18 173.4v2.6M371.72 324.6v-2.6M371.72 173.4v2.6M375.44 324.6v-2.6M375.44 173.4v2.6M378.58 324.6v-2.6M378.58 173.4v2.6M381.30 324.6v-2.6M381.30 173.4v2.6M383.70 324.6v-2.6M383.70 173.4v2.6M385.85 324.6v-4.8M385.85 173.4v4.8M399.98 324.6v-2.6M399.98 173.4v2.6M408.24 324.6v-2.6M408.24 173.4v2.6M414.10 324.6v-2.6M414.10 173.4v2.6M418.65 324.6v-2.6M418.65 173.4v2.6M422.36 324.6v-2.6M422.36 173.4v2.6M425.51 324.6v-2.6M425.51 173.4v2.6M428.23 324.6v-2.6M428.23 173.4v2.6M430.63 324.6v-2.6M430.63 173.4v2.6M432.77 324.6v-4.8M432.77 173.4v4.8M446.90 324.6v-2.6M446.90 173.4v2.6M455.16 324.6v-2.6M455.16 173.4v2.6M461.03 324.6v-2.6M461.03 173.4v2.6M465.57 324.6v-2.6M465.57 173.4v2.6M469.29 324.6v-2.6M469.29 173.4v2.6M472.43 324.6v-2.6M472.43 173.4v2.6M475.15 324.6v-2.6M475.15 173.4v2.6M477.55 324.6v-2.6M477.55 173.4v2.6M479.70 324.6v-4.8M479.70 173.4v4.8M292.0 319.60h2.6M479.7 319.60h-2.6M292.0 315.19h2.6M479.7 315.19h-2.6M292.0 311.38h2.6M479.7 311.38h-2.6M292.0 308.01h2.6M479.7 308.01h-2.6M292.0 305.00h4.8M479.7 305.00h-4.8M292.0 285.19h2.6M479.7 285.19h-2.6M292.0 273.61h2.6M479.7 273.61h-2.6M292.0 265.38h2.6M479.7 265.38h-2.6M292.0 259.01h2.6M479.7 259.01h-2.6M292.0 253.80h2.6M479.7 253.80h-2.6M292.0 249.39h2.6M479.7 249.39h-2.6M292.0 245.58h2.6M479.7 245.58h-2.6M292.0 242.21h2.6M479.7 242.21h-2.6M292.0 239.20h4.8M479.7 239.20h-4.8M292.0 219.39h2.6M479.7 219.39h-2.6M292.0 207.81h2.6M479.7 207.81h-2.6M292.0 199.58h2.6M479.7 199.58h-2.6M292.0 193.21h2.6M479.7 193.21h-2.6M292.0 188.00h2.6M479.7 188.00h-2.6M292.0 183.59h2.6M479.7 183.59h-2.6M292.0 179.78h2.6M479.7 179.78h-2.6M292.0 176.41h2.6M479.7 176.41h-2.6M292.0 173.40h4.8M479.7 173.40h-4.8" stroke="#000" stroke-width="1.2" fill="none"/>
<clipPath id="cc"><rect x="292.0" y="170.4" width="189.2" height="154.2"/></clipPath><g clip-path="url(#cc)">
<path d="M365.0 171.5 L369.5 178.5 L372.7 185.0 L375.5 191.5 L377.7 197.6 L379.7 204.0 L381.5 210.1 L383.3 216.5 L385.2 222.6 L388.0 229.0 L392.0 233.5 L397.0 236.5 L402.0 240.0 L407.0 244.0 L412.0 248.5 L417.0 253.0 L421.0 256.0 L426.0 260.5 L429.0 265.0 L434.0 272.0 L438.0 278.0 L443.0 283.0" fill="none" stroke="#ee4047" stroke-width="5.8" stroke-linecap="round" stroke-linejoin="round"/>
<circle cx="443.0" cy="283.0" r="2.6" fill="#ee4047"/>
<circle cx="445.5" cy="285.5" r="2.6" fill="#ee4047"/>
<circle cx="448.0" cy="288.0" r="2.6" fill="#ee4047"/>
<circle cx="450.0" cy="289.5" r="2.6" fill="#ee4047"/>
<circle cx="452.0" cy="291.0" r="2.6" fill="#ee4047"/>
<circle cx="454.5" cy="295.0" r="2.6" fill="#ee4047"/>
<circle cx="456.2" cy="297.2" r="2.6" fill="#ee4047"/>
<circle cx="458.0" cy="299.5" r="2.6" fill="#ee4047"/>
<circle cx="460.2" cy="301.2" r="2.6" fill="#ee4047"/>
<circle cx="462.5" cy="303.0" r="2.6" fill="#ee4047"/>
<circle cx="467.0" cy="305.0" r="2.6" fill="#ee4047"/>
<circle cx="468.0" cy="308.0" r="2.6" fill="#ee4047"/>
<circle cx="470.0" cy="311.0" r="2.6" fill="#ee4047"/>
<circle cx="472.0" cy="314.0" r="2.6" fill="#ee4047"/>
<circle cx="474.0" cy="316.5" r="2.6" fill="#ee4047"/>
<path d="M339.5 171.5 L344.0 177.0 L348.0 182.0 L355.0 192.0 L360.5 202.0 L366.0 208.0 L371.5 218.0 L377.0 227.0 L382.0 232.0 L387.0 237.0 L392.0 241.0 L397.0 244.0 L402.0 248.0 L407.0 252.5 L412.0 256.5 L418.0 262.0 L423.0 268.0 L427.0 273.0 L431.0 278.5 L437.0 284.0 L442.0 289.0" fill="none" stroke="#3a6fc8" stroke-width="5.8" stroke-linecap="round" stroke-linejoin="round"/>
<circle cx="442.0" cy="289.0" r="2.6" fill="#3a6fc8"/>
<circle cx="445.0" cy="291.0" r="2.6" fill="#3a6fc8"/>
<circle cx="448.0" cy="293.0" r="2.6" fill="#3a6fc8"/>
<circle cx="452.0" cy="295.0" r="2.6" fill="#3a6fc8"/>
<circle cx="454.5" cy="297.0" r="2.6" fill="#3a6fc8"/>
<circle cx="457.0" cy="299.0" r="2.6" fill="#3a6fc8"/>
<circle cx="459.0" cy="301.0" r="2.6" fill="#3a6fc8"/>
<circle cx="461.0" cy="303.0" r="2.6" fill="#3a6fc8"/>
<circle cx="463.0" cy="306.0" r="2.6" fill="#3a6fc8"/>
<circle cx="465.3" cy="307.5" r="2.6" fill="#3a6fc8"/>
<circle cx="467.7" cy="309.0" r="2.6" fill="#3a6fc8"/>
<circle cx="470.0" cy="310.5" r="2.6" fill="#3a6fc8"/>
<circle cx="472.0" cy="312.8" r="2.6" fill="#3a6fc8"/>
<path d="M314.2 171.8 L321.8 178.4 L330.1 185.9 L335.1 193.4 L340.1 200.1 L345.5 207.0 L350.0 212.5 L355.0 218.0 L364.5 228.0 L371.0 233.5 L377.0 237.5 L382.0 242.0 L387.0 246.0 L392.0 249.0 L397.0 251.5 L402.0 254.5 L405.0 258.0 L409.0 264.0 L413.0 269.0 L417.0 274.0 L421.0 279.0 L425.0 283.5 L430.0 286.0 L435.0 290.0 L441.0 294.0 L446.0 298.0" fill="none" stroke="#daa024" stroke-width="5.8" stroke-linecap="round" stroke-linejoin="round"/>
<circle cx="441.0" cy="294.0" r="2.6" fill="#daa024"/>
<circle cx="443.5" cy="296.0" r="2.6" fill="#daa024"/>
<circle cx="446.0" cy="298.0" r="2.6" fill="#daa024"/>
<circle cx="448.5" cy="300.0" r="2.6" fill="#daa024"/>
<circle cx="451.0" cy="302.0" r="2.6" fill="#daa024"/>
<circle cx="454.0" cy="304.0" r="2.6" fill="#daa024"/>
<circle cx="457.0" cy="305.2" r="2.6" fill="#daa024"/>
<circle cx="460.0" cy="306.5" r="2.6" fill="#daa024"/>
<circle cx="463.0" cy="308.5" r="2.6" fill="#daa024"/>
<circle cx="466.0" cy="310.5" r="2.6" fill="#daa024"/>
<circle cx="469.0" cy="311.8" r="2.6" fill="#daa024"/>
<circle cx="472.0" cy="313.0" r="2.6" fill="#daa024"/>
<circle cx="474.7" cy="313.7" r="2.6" fill="#daa024"/>
<circle cx="477.3" cy="314.3" r="2.6" fill="#daa024"/>
<path d="M292.0 174.2 L298.4 179.2 L305.0 183.0 L312.0 190.0 L320.0 198.0 L327.6 207.6 L335.0 217.0 L340.0 222.3 L345.0 226.5 L350.0 230.5 L355.0 233.5 L360.0 236.0 L365.0 239.0 L370.0 241.5 L377.7 246.5 L382.0 250.0 L387.7 254.0 L392.5 258.0 L398.0 265.0 L402.0 270.0 L406.0 275.0 L410.0 279.0 L415.0 283.0 L420.0 286.0 L425.0 291.0 L430.0 292.0 L435.0 293.0 L440.0 296.0 L445.0 301.0" fill="none" stroke="#2fb56a" stroke-width="5.4" stroke-linecap="round" stroke-linejoin="round"/>
<circle cx="440.0" cy="296.0" r="2.6" fill="#2fb56a"/>
<circle cx="442.5" cy="298.5" r="2.6" fill="#2fb56a"/>
<circle cx="445.0" cy="301.0" r="2.6" fill="#2fb56a"/>
<circle cx="448.0" cy="304.0" r="2.6" fill="#2fb56a"/>
<circle cx="452.0" cy="305.0" r="2.6" fill="#2fb56a"/>
<circle cx="454.0" cy="306.5" r="2.6" fill="#2fb56a"/>
<circle cx="456.0" cy="308.0" r="2.6" fill="#2fb56a"/>
<circle cx="458.0" cy="309.5" r="2.6" fill="#2fb56a"/>
<circle cx="460.0" cy="313.0" r="2.6" fill="#2fb56a"/>
<circle cx="463.0" cy="312.2" r="2.6" fill="#2fb56a"/>
<circle cx="466.0" cy="311.4" r="2.6" fill="#2fb56a"/>
<circle cx="469.0" cy="312.6" r="2.6" fill="#2fb56a"/>
<circle cx="472.0" cy="313.8" r="2.6" fill="#2fb56a"/>
<circle cx="475.0" cy="315.0" r="2.6" fill="#2fb56a"/>
<circle cx="476.5" cy="317.0" r="2.6" fill="#2fb56a"/>
<line x1="293" y1="173.6" x2="377" y2="256" stroke="#000" stroke-width="2.4"/>
<line x1="339" y1="201.8" x2="386.5" y2="248.5" stroke="#000" stroke-width="2.4"/>
<line x1="357.5" y1="200.2" x2="444.5" y2="297.5" stroke="#000" stroke-width="2.4"/>
<line x1="376.6" y1="205" x2="466.5" y2="317.5" stroke="#000" stroke-width="2.4"/>
</g>
<rect x="292.0" y="173.4" width="187.7" height="151.2" fill="none" stroke="#111" stroke-width="1.6"/>
<circle cx="299" cy="270.4" r="2.0" fill="#e66a72"/>
<circle cx="299" cy="284.7" r="2.0" fill="#9c9ad2"/>
<circle cx="299" cy="299.0" r="2.0" fill="#f2ac62"/>
<circle cx="299" cy="313.3" r="2.0" fill="#4cae8c"/>
<path d="M254.3 256.3C253.2 258.5 254.5 260.4 257 260.8L263.6 261.9M263.6 261.9L254.6 266.2C253.5 266.9 253.8 268.4 254.6 269.2M254.6 266.6C258 266.8 262 267 264.2 268.5C265 269.5 264.6 270.6 263.6 271.5" fill="none" stroke="#000" stroke-width="1.25" stroke-linecap="round"/>
<circle cx="263.2" cy="261.9" r="1.0" fill="#000"/>
<text transform="translate(-0.33,18.06) scale(1.083,1)" font-size="23.51" fill="#000" stroke="#000" stroke-width="0.20" >(a)</text>
<text transform="translate(107.45,15.72) scale(0.966,1)" font-size="17.61" fill="#000" stroke="#000" stroke-width="0.23" >Gen-1</text>
<text transform="translate(106.40,49.72) scale(1.018,1)" font-size="17.75" fill="#000" stroke="#000" stroke-width="0.22" >Gen-2</text>
<text transform="translate(83.10,83.42) scale(1.016,1)" font-size="17.75" fill="#000" stroke="#000" stroke-width="0.22" >Gen-3</text>
<text transform="translate(54.10,118.42) scale(1.010,1)" font-size="17.75" fill="#000" stroke="#000" stroke-width="0.22" >Gen-4</text>
<text transform="translate(4.60,151.62) scale(0.983,1)" font-size="18.31" fill="#000" stroke="#000" stroke-width="0.22" >Gen-5</text>
<text transform="translate(276.69,18.22) scale(1.023,1)" font-size="17.70" fill="#000" stroke="#000" stroke-width="0.22" >On-site Resonance -<tspan font-style="italic">V</tspan></text>
<text transform="translate(276.69,40.62)" font-size="18.11" fill="#000" stroke="#000" stroke-width="0.22" >On-site Resonance <tspan font-style="italic">V</tspan></text>
<text transform="translate(366.55,75.23) scale(1.051,1)" font-size="17.30" fill="#000" stroke="#000" stroke-width="0.21" >Fibonacci</text>
<text transform="translate(332.80,91.23) scale(1.034,1)" font-size="17.43" fill="#000" stroke="#000" stroke-width="0.21" >Substitutional Rule</text>
<text transform="translate(-0.11,185.12) scale(0.989,1)" font-size="23.72" fill="#000" stroke="#000" stroke-width="0.22" >(b)</text>
<text transform="translate(27.14,181.75) scale(0.974,1)" font-size="14.93" fill="#000" stroke="#000" stroke-width="0.23" >10</text>
<text transform="translate(43.60,176.30)" font-size="10.00" fill="#000" stroke="#000" stroke-width="0.22" >0</text>
<text transform="translate(23.84,256.55) scale(0.950,1)" font-size="15.21" fill="#000" stroke="#000" stroke-width="0.23" >10</text>
<text transform="translate(39.89,251.01)" font-size="11.03" fill="#000" stroke="#000" stroke-width="0.22" >-4</text>
<text transform="translate(24.18,329.25) scale(0.949,1)" font-size="14.79" fill="#000" stroke="#000" stroke-width="0.23" >10</text>
<text transform="translate(40.40,323.69)" font-size="10.56" fill="#000" stroke="#000" stroke-width="0.22" >-8</text>
<text transform="translate(37.92,341.14) scale(1.013,1)" font-size="15.77" fill="#000" stroke="#000" stroke-width="0.22" >1E-8</text>
<text transform="translate(127.02,341.50) scale(1.007,1)" font-size="15.94" fill="#000" stroke="#000" stroke-width="0.22" >1E-4</text>
<text transform="translate(233.60,341.50)" font-size="15.94" fill="#000" stroke="#000" stroke-width="0.22" >1</text>
<text transform="translate(134.05,353.59) scale(0.969,1)" font-size="15.27" fill="#000" stroke="#000" stroke-width="0.23" >γ</text>
<text transform="translate(141.34,357.80) scale(0.927,1)" font-size="11.59" fill="#000" stroke="#000" stroke-width="0.24" >EP</text>
<text transform="translate(174.27,265.84) scale(0.971,1)" font-size="16.20" fill="#33489a" stroke="#33489a" stroke-width="0.23" font-weight="bold">0.96</text>
<text transform="translate(241.43,184.57) scale(1.024,1)" font-size="23.94" fill="#000" stroke="#000" stroke-width="0.21" >(c)</text>
<text transform="translate(269.97,182.06) scale(0.984,1)" font-size="14.37" fill="#000" stroke="#000" stroke-width="0.22" >10</text>
<text transform="translate(285.37,177.20)" font-size="10.28" fill="#000" stroke="#000" stroke-width="0.22" >3</text>
<text transform="translate(270.89,246.75) scale(0.954,1)" font-size="14.51" fill="#000" stroke="#000" stroke-width="0.23" >10</text>
<text transform="translate(285.80,240.90)" font-size="9.29" fill="#000" stroke="#000" stroke-width="0.22" >2</text>
<text transform="translate(270.48,311.75) scale(0.943,1)" font-size="14.79" fill="#000" stroke="#000" stroke-width="0.23" >10</text>
<text transform="translate(285.98,305.10)" font-size="8.70" fill="#000" stroke="#000" stroke-width="0.22" >1</text>
<text transform="translate(280.03,339.35) scale(0.917,1)" font-size="14.65" fill="#000" stroke="#000" stroke-width="0.24" >10</text>
<text transform="translate(295.84,333.31)" font-size="8.57" fill="#000" stroke="#000" stroke-width="0.22" >-5</text>
<text transform="translate(371.72,339.35) scale(0.900,1)" font-size="14.65" fill="#000" stroke="#000" stroke-width="0.24" >10</text>
<text transform="translate(387.32,333.72)" font-size="8.03" fill="#000" stroke="#000" stroke-width="0.22" >-3</text>
<text transform="translate(466.91,339.46) scale(0.968,1)" font-size="14.08" fill="#000" stroke="#000" stroke-width="0.23" >10</text>
<text transform="translate(483.16,334.00)" font-size="7.25" fill="#000" stroke="#000" stroke-width="0.22" >-1</text>
<text transform="translate(379.40,355.60) scale(0.918,1)" font-size="14.64" fill="#000" stroke="#000" stroke-width="0.24" >Δ</text>
<text transform="translate(388.70,358.30) scale(1.100,1)" font-size="9.58" fill="#000" stroke="#000" stroke-width="0.20" >0</text>
<text transform="translate(69.14,195.58) scale(1.009,1)" font-size="11.69" fill="#000" stroke="#000" stroke-width="0.22" ><tspan font-style="italic">V</tspan> = 0.20</text>
<text transform="translate(303.85,274.49) scale(1.024,1)" font-size="11.41" fill="#000" stroke="#000" stroke-width="0.21" ><tspan font-style="italic">V</tspan> = 0.20</text>
<text transform="translate(69.14,209.61) scale(1.009,1)" font-size="11.69" fill="#000" stroke="#000" stroke-width="0.22" ><tspan font-style="italic">V</tspan> = 0.40</text>
<text transform="translate(303.85,288.79) scale(1.024,1)" font-size="11.41" fill="#000" stroke="#000" stroke-width="0.21" ><tspan font-style="italic">V</tspan> = 0.40</text>
<text transform="translate(69.14,223.64) scale(1.009,1)" font-size="11.69" fill="#000" stroke="#000" stroke-width="0.22" ><tspan font-style="italic">V</tspan> = 0.60</text>
<text transform="translate(303.85,303.09) scale(1.024,1)" font-size="11.41" fill="#000" stroke="#000" stroke-width="0.21" ><tspan font-style="italic">V</tspan> = 0.60</text>
<text transform="translate(69.14,237.67) scale(1.009,1)" font-size="11.69" fill="#000" stroke="#000" stroke-width="0.22" ><tspan font-style="italic">V</tspan> = 0.80</text>
<text transform="translate(303.85,317.39) scale(1.024,1)" font-size="11.41" fill="#000" stroke="#000" stroke-width="0.21" ><tspan font-style="italic">V</tspan> = 0.80</text>
<text transform="translate(354.86,274.29) scale(1.039,1)" font-size="11.35" fill="#4a57a2" stroke="#4a57a2" stroke-width="0.21" ><tspan font-style="italic">k</tspan> = 0.89</text>
<text transform="translate(354.86,288.59) scale(1.036,1)" font-size="11.35" fill="#4a57a2" stroke="#4a57a2" stroke-width="0.21" ><tspan font-style="italic">k</tspan> = 0.80</text>
<text transform="translate(354.87,302.89) scale(1.033,1)" font-size="11.35" fill="#4a57a2" stroke="#4a57a2" stroke-width="0.21" ><tspan font-style="italic">k</tspan> = 0.74</text>
<text transform="translate(354.86,317.19) scale(1.036,1)" font-size="11.35" fill="#4a57a2" stroke="#4a57a2" stroke-width="0.21" ><tspan font-style="italic">k</tspan> = 0.70</text>
<text transform="translate(16.00,258.11) rotate(-90) scale(0.854,1)" font-size="15.94" stroke="#000" stroke-width="0.2">Δ</text>
<text transform="translate(18.60,248.07) rotate(-90) scale(0.930,1)" font-size="9.86" stroke="#000" stroke-width="0.2">0</text>
<text transform="translate(262.52,258.15) rotate(-90) scale(1.150,1)" font-size="13.72" stroke="#000" stroke-width="0.2">(</text>
<text transform="translate(265.10,249.98) rotate(-90) scale(1.076,1)" font-size="14.78" stroke="#000" stroke-width="0.2">Δ</text>
<text transform="translate(267.71,239.33) rotate(-90) scale(0.910,1)" font-size="9.15" stroke="#000" stroke-width="0.2">0</text>
<text transform="translate(262.52,230.31) rotate(-90) scale(1.150,1)" font-size="13.72" stroke="#000" stroke-width="0.2">)</text>
</svg></body></html>
